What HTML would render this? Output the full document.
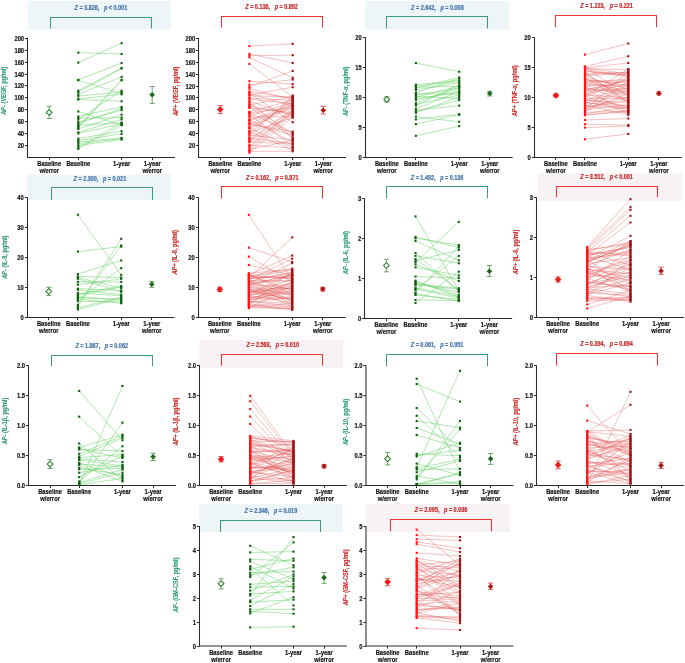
<!DOCTYPE html>
<html><head><meta charset="utf-8"><style>
html,body{margin:0;padding:0;background:#fff;}
svg{display:block;will-change:transform;}
text{font-family:"Liberation Sans",sans-serif;}
.tk{font-size:6.6px;font-weight:bold;fill:#111;stroke:#111;stroke-width:0.18px;}
.xl{font-size:6.6px;font-weight:bold;fill:#111;stroke:#111;stroke-width:0.18px;}
.hd{font-size:6.3px;font-weight:bold;stroke-width:0.2px;}
.yl{font-size:6.4px;font-weight:bold;stroke-width:0.1px;}
</style></head><body>
<svg width="685" height="663" viewBox="0 0 685 663">
<rect width="685" height="663" fill="#fff"/>
<rect x="27.6" y="1" width="143.6" height="28.6" fill="#edf5f9"/>
<path d="M50.5,28.5V17.5H151.5V28.5" fill="none" stroke="#3e9a7c" stroke-width="1.05"/>
<text transform="translate(100.9,8.2) scale(0.87,1)" class="hd" fill="#4474ab" stroke="#4474ab" text-anchor="middle" dominant-baseline="central"><tspan font-style="italic">Z</tspan> = 3.826,   <tspan font-style="italic">p</tspan> &lt; 0.001</text>
<path d="M27.5,37.80V157.5H175.00" fill="none" stroke="#2a2a2a" stroke-width="1.05"/>
<line x1="24.9" y1="145.5" x2="27.5" y2="145.5" stroke="#2a2a2a" stroke-width="1"/>
<text transform="translate(24.1,145.35) scale(0.88,1)" class="tk" text-anchor="end" dominant-baseline="central">20</text>
<line x1="24.9" y1="133.5" x2="27.5" y2="133.5" stroke="#2a2a2a" stroke-width="1"/>
<text transform="translate(24.1,133.35) scale(0.88,1)" class="tk" text-anchor="end" dominant-baseline="central">40</text>
<line x1="24.9" y1="121.5" x2="27.5" y2="121.5" stroke="#2a2a2a" stroke-width="1"/>
<text transform="translate(24.1,121.35) scale(0.88,1)" class="tk" text-anchor="end" dominant-baseline="central">60</text>
<line x1="24.9" y1="109.5" x2="27.5" y2="109.5" stroke="#2a2a2a" stroke-width="1"/>
<text transform="translate(24.1,109.35) scale(0.88,1)" class="tk" text-anchor="end" dominant-baseline="central">80</text>
<line x1="24.9" y1="97.5" x2="27.5" y2="97.5" stroke="#2a2a2a" stroke-width="1"/>
<text transform="translate(24.1,97.35) scale(0.88,1)" class="tk" text-anchor="end" dominant-baseline="central">100</text>
<line x1="24.9" y1="85.5" x2="27.5" y2="85.5" stroke="#2a2a2a" stroke-width="1"/>
<text transform="translate(24.1,85.35) scale(0.88,1)" class="tk" text-anchor="end" dominant-baseline="central">120</text>
<line x1="24.9" y1="74.5" x2="27.5" y2="74.5" stroke="#2a2a2a" stroke-width="1"/>
<text transform="translate(24.1,74.35) scale(0.88,1)" class="tk" text-anchor="end" dominant-baseline="central">140</text>
<line x1="24.9" y1="62.5" x2="27.5" y2="62.5" stroke="#2a2a2a" stroke-width="1"/>
<text transform="translate(24.1,62.35) scale(0.88,1)" class="tk" text-anchor="end" dominant-baseline="central">160</text>
<line x1="24.9" y1="50.5" x2="27.5" y2="50.5" stroke="#2a2a2a" stroke-width="1"/>
<text transform="translate(24.1,50.35) scale(0.88,1)" class="tk" text-anchor="end" dominant-baseline="central">180</text>
<line x1="24.9" y1="38.5" x2="27.5" y2="38.5" stroke="#2a2a2a" stroke-width="1"/>
<text transform="translate(24.1,38.35) scale(0.88,1)" class="tk" text-anchor="end" dominant-baseline="central">200</text>
<line x1="49.5" y1="157.5" x2="49.5" y2="160.1" stroke="#2a2a2a" stroke-width="1"/>
<line x1="78.5" y1="157.5" x2="78.5" y2="160.1" stroke="#2a2a2a" stroke-width="1"/>
<line x1="121.5" y1="157.5" x2="121.5" y2="160.1" stroke="#2a2a2a" stroke-width="1"/>
<line x1="152.5" y1="157.5" x2="152.5" y2="160.1" stroke="#2a2a2a" stroke-width="1"/>
<text transform="translate(49.20,163.5) scale(0.88,1)" class="xl" text-anchor="middle" dominant-baseline="central">Baseline</text>
<text transform="translate(49.20,170.6) scale(0.88,1)" class="xl" text-anchor="middle" dominant-baseline="central">w/error</text>
<text transform="translate(78.30,163.5) scale(0.88,1)" class="xl" text-anchor="middle" dominant-baseline="central">Baseline</text>
<text transform="translate(121.60,163.5) scale(0.88,1)" class="xl" text-anchor="middle" dominant-baseline="central">1-year</text>
<text transform="translate(152.20,163.5) scale(0.88,1)" class="xl" text-anchor="middle" dominant-baseline="central">1-year</text>
<text transform="translate(152.20,170.6) scale(0.88,1)" class="xl" text-anchor="middle" dominant-baseline="central">w/error</text>
<text transform="translate(4.2,90.8) rotate(-90) scale(0.88,1)" class="yl" fill="#2f9a78" stroke="#2f9a78" text-anchor="middle" dominant-baseline="central"><tspan font-style="italic">AP-</tspan> (VEGF, pg/ml)</text>
<g stroke="#62d062" stroke-width="0.5" fill="none" opacity="1">
<line x1="78.30" y1="52.65" x2="121.60" y2="54.01"/>
<line x1="78.30" y1="62.61" x2="121.60" y2="43.15"/>
<line x1="78.30" y1="79.81" x2="121.60" y2="63.06"/>
<line x1="78.30" y1="80.26" x2="121.60" y2="93.38"/>
<line x1="78.30" y1="90.67" x2="121.60" y2="68.04"/>
<line x1="78.30" y1="92.03" x2="121.60" y2="68.49"/>
<line x1="78.30" y1="94.29" x2="121.60" y2="76.86"/>
<line x1="78.30" y1="96.10" x2="121.60" y2="92.03"/>
<line x1="78.30" y1="98.82" x2="121.60" y2="94.29"/>
<line x1="78.30" y1="99.49" x2="121.60" y2="101.30"/>
<line x1="78.30" y1="111.49" x2="121.60" y2="125.07"/>
<line x1="78.30" y1="116.47" x2="121.60" y2="106.96"/>
<line x1="78.30" y1="118.05" x2="121.60" y2="117.60"/>
<line x1="78.30" y1="119.63" x2="121.60" y2="90.67"/>
<line x1="78.30" y1="122.12" x2="121.60" y2="110.13"/>
<line x1="78.30" y1="123.71" x2="121.60" y2="108.55"/>
<line x1="78.30" y1="125.07" x2="121.60" y2="122.80"/>
<line x1="78.30" y1="126.65" x2="121.60" y2="79.81"/>
<line x1="78.30" y1="127.78" x2="121.60" y2="80.26"/>
<line x1="78.30" y1="128.91" x2="121.60" y2="114.66"/>
<line x1="78.30" y1="132.31" x2="121.60" y2="119.41"/>
<line x1="78.30" y1="133.44" x2="121.60" y2="123.93"/>
<line x1="78.30" y1="138.64" x2="121.60" y2="131.18"/>
<line x1="78.30" y1="140.45" x2="121.60" y2="133.89"/>
<line x1="78.30" y1="141.81" x2="121.60" y2="137.96"/>
<line x1="78.30" y1="143.62" x2="121.60" y2="138.64"/>
<line x1="78.30" y1="145.43" x2="121.60" y2="139.55"/>
<line x1="78.30" y1="147.24" x2="121.60" y2="122.80"/>
<line x1="78.30" y1="148.83" x2="121.60" y2="125.07"/>
</g>
<g fill="#0f5e0f">
<rect x="77.25" y="51.60" width="2.1" height="2.1"/>
<rect x="77.25" y="61.56" width="2.1" height="2.1"/>
<rect x="77.25" y="78.76" width="2.1" height="2.1"/>
<rect x="77.25" y="79.21" width="2.1" height="2.1"/>
<rect x="77.25" y="89.62" width="2.1" height="2.1"/>
<rect x="77.25" y="90.98" width="2.1" height="2.1"/>
<rect x="77.25" y="93.24" width="2.1" height="2.1"/>
<rect x="77.25" y="95.05" width="2.1" height="2.1"/>
<rect x="77.25" y="97.77" width="2.1" height="2.1"/>
<rect x="77.25" y="98.44" width="2.1" height="2.1"/>
<rect x="77.25" y="110.44" width="2.1" height="2.1"/>
<rect x="77.25" y="115.42" width="2.1" height="2.1"/>
<rect x="77.25" y="117.00" width="2.1" height="2.1"/>
<rect x="77.25" y="118.58" width="2.1" height="2.1"/>
<rect x="77.25" y="121.07" width="2.1" height="2.1"/>
<rect x="77.25" y="122.66" width="2.1" height="2.1"/>
<rect x="77.25" y="124.02" width="2.1" height="2.1"/>
<rect x="77.25" y="125.60" width="2.1" height="2.1"/>
<rect x="77.25" y="126.73" width="2.1" height="2.1"/>
<rect x="77.25" y="127.86" width="2.1" height="2.1"/>
<rect x="77.25" y="131.26" width="2.1" height="2.1"/>
<rect x="77.25" y="132.39" width="2.1" height="2.1"/>
<rect x="77.25" y="137.59" width="2.1" height="2.1"/>
<rect x="77.25" y="139.40" width="2.1" height="2.1"/>
<rect x="77.25" y="140.76" width="2.1" height="2.1"/>
<rect x="77.25" y="142.57" width="2.1" height="2.1"/>
<rect x="77.25" y="144.38" width="2.1" height="2.1"/>
<rect x="77.25" y="146.19" width="2.1" height="2.1"/>
<rect x="77.25" y="147.78" width="2.1" height="2.1"/>
</g>
<g fill="#0f5e0f">
<rect x="120.55" y="52.96" width="2.1" height="2.1"/>
<rect x="120.55" y="42.10" width="2.1" height="2.1"/>
<rect x="120.55" y="62.01" width="2.1" height="2.1"/>
<rect x="120.55" y="92.33" width="2.1" height="2.1"/>
<rect x="120.55" y="66.99" width="2.1" height="2.1"/>
<rect x="120.55" y="67.44" width="2.1" height="2.1"/>
<rect x="120.55" y="75.81" width="2.1" height="2.1"/>
<rect x="120.55" y="90.98" width="2.1" height="2.1"/>
<rect x="120.55" y="93.24" width="2.1" height="2.1"/>
<rect x="120.55" y="100.25" width="2.1" height="2.1"/>
<rect x="120.55" y="124.02" width="2.1" height="2.1"/>
<rect x="120.55" y="105.91" width="2.1" height="2.1"/>
<rect x="120.55" y="116.55" width="2.1" height="2.1"/>
<rect x="120.55" y="89.62" width="2.1" height="2.1"/>
<rect x="120.55" y="109.08" width="2.1" height="2.1"/>
<rect x="120.55" y="107.50" width="2.1" height="2.1"/>
<rect x="120.55" y="121.75" width="2.1" height="2.1"/>
<rect x="120.55" y="78.76" width="2.1" height="2.1"/>
<rect x="120.55" y="79.21" width="2.1" height="2.1"/>
<rect x="120.55" y="113.61" width="2.1" height="2.1"/>
<rect x="120.55" y="118.36" width="2.1" height="2.1"/>
<rect x="120.55" y="122.88" width="2.1" height="2.1"/>
<rect x="120.55" y="130.13" width="2.1" height="2.1"/>
<rect x="120.55" y="132.84" width="2.1" height="2.1"/>
<rect x="120.55" y="136.91" width="2.1" height="2.1"/>
<rect x="120.55" y="137.59" width="2.1" height="2.1"/>
<rect x="120.55" y="138.50" width="2.1" height="2.1"/>
<rect x="120.55" y="121.75" width="2.1" height="2.1"/>
<rect x="120.55" y="124.02" width="2.1" height="2.1"/>
</g>
<path d="M49.20,106.3V118.5M46.60,106.3H51.80M46.60,118.5H51.80" stroke="#4a8f4a" stroke-width="0.8" fill="none"/>
<path d="M49.20,109.55L52.05,112.40L49.20,115.25L46.35,112.40Z" fill="#fff" stroke="#2b7a2b" stroke-width="1.05"/>
<path d="M152.20,86.5V103.4M149.60,86.5H154.80M149.60,103.4H154.80" stroke="#4a8f4a" stroke-width="0.8" fill="none"/>
<path d="M152.20,91.90L155.00,94.70L152.20,97.50L149.40,94.70Z" fill="#1e6a1e"/>
<path d="M221.5,27.6V16.5H322.5V27.6" fill="none" stroke="#ec3434" stroke-width="1.05"/>
<text transform="translate(271.6,6.7) scale(0.87,1)" class="hd" fill="#c42a2a" stroke="#c42a2a" text-anchor="middle" dominant-baseline="central"><tspan font-style="italic">Z</tspan> = 0.136,   <tspan font-style="italic">p</tspan> = 0.892</text>
<path d="M198.5,37.90V157.5H346.10" fill="none" stroke="#2a2a2a" stroke-width="1.05"/>
<line x1="195.9" y1="145.5" x2="198.5" y2="145.5" stroke="#2a2a2a" stroke-width="1"/>
<text transform="translate(195.2,145.35) scale(0.88,1)" class="tk" text-anchor="end" dominant-baseline="central">20</text>
<line x1="195.9" y1="133.5" x2="198.5" y2="133.5" stroke="#2a2a2a" stroke-width="1"/>
<text transform="translate(195.2,133.35) scale(0.88,1)" class="tk" text-anchor="end" dominant-baseline="central">40</text>
<line x1="195.9" y1="121.5" x2="198.5" y2="121.5" stroke="#2a2a2a" stroke-width="1"/>
<text transform="translate(195.2,121.35) scale(0.88,1)" class="tk" text-anchor="end" dominant-baseline="central">60</text>
<line x1="195.9" y1="109.5" x2="198.5" y2="109.5" stroke="#2a2a2a" stroke-width="1"/>
<text transform="translate(195.2,109.35) scale(0.88,1)" class="tk" text-anchor="end" dominant-baseline="central">80</text>
<line x1="195.9" y1="97.5" x2="198.5" y2="97.5" stroke="#2a2a2a" stroke-width="1"/>
<text transform="translate(195.2,97.35) scale(0.88,1)" class="tk" text-anchor="end" dominant-baseline="central">100</text>
<line x1="195.9" y1="86.5" x2="198.5" y2="86.5" stroke="#2a2a2a" stroke-width="1"/>
<text transform="translate(195.2,86.35) scale(0.88,1)" class="tk" text-anchor="end" dominant-baseline="central">120</text>
<line x1="195.9" y1="74.5" x2="198.5" y2="74.5" stroke="#2a2a2a" stroke-width="1"/>
<text transform="translate(195.2,74.35) scale(0.88,1)" class="tk" text-anchor="end" dominant-baseline="central">140</text>
<line x1="195.9" y1="62.5" x2="198.5" y2="62.5" stroke="#2a2a2a" stroke-width="1"/>
<text transform="translate(195.2,62.35) scale(0.88,1)" class="tk" text-anchor="end" dominant-baseline="central">160</text>
<line x1="195.9" y1="50.5" x2="198.5" y2="50.5" stroke="#2a2a2a" stroke-width="1"/>
<text transform="translate(195.2,50.35) scale(0.88,1)" class="tk" text-anchor="end" dominant-baseline="central">180</text>
<line x1="195.9" y1="38.5" x2="198.5" y2="38.5" stroke="#2a2a2a" stroke-width="1"/>
<text transform="translate(195.2,38.35) scale(0.88,1)" class="tk" text-anchor="end" dominant-baseline="central">200</text>
<line x1="220.5" y1="157.5" x2="220.5" y2="160.1" stroke="#2a2a2a" stroke-width="1"/>
<line x1="249.5" y1="157.5" x2="249.5" y2="160.1" stroke="#2a2a2a" stroke-width="1"/>
<line x1="292.5" y1="157.5" x2="292.5" y2="160.1" stroke="#2a2a2a" stroke-width="1"/>
<line x1="323.5" y1="157.5" x2="323.5" y2="160.1" stroke="#2a2a2a" stroke-width="1"/>
<text transform="translate(220.30,163.5) scale(0.88,1)" class="xl" text-anchor="middle" dominant-baseline="central">Baseline</text>
<text transform="translate(220.30,170.6) scale(0.88,1)" class="xl" text-anchor="middle" dominant-baseline="central">w/error</text>
<text transform="translate(249.40,163.5) scale(0.88,1)" class="xl" text-anchor="middle" dominant-baseline="central">Baseline</text>
<text transform="translate(292.70,163.5) scale(0.88,1)" class="xl" text-anchor="middle" dominant-baseline="central">1-year</text>
<text transform="translate(323.30,163.5) scale(0.88,1)" class="xl" text-anchor="middle" dominant-baseline="central">1-year</text>
<text transform="translate(323.30,170.6) scale(0.88,1)" class="xl" text-anchor="middle" dominant-baseline="central">w/error</text>
<text transform="translate(175.6,91.1) rotate(-90) scale(0.88,1)" class="yl" fill="#cc2a2a" stroke="#cc2a2a" text-anchor="middle" dominant-baseline="central"><tspan font-style="italic">AP+</tspan> (VEGF, pg/ml)</text>
<g stroke="#e35a5a" stroke-width="0.38" fill="none" opacity="1">
<line x1="249.40" y1="46.10" x2="292.70" y2="43.80"/>
<line x1="249.40" y1="53.90" x2="292.70" y2="63.00"/>
<line x1="249.40" y1="55.70" x2="292.70" y2="55.20"/>
<line x1="249.40" y1="57.40" x2="292.70" y2="77.80"/>
<line x1="249.40" y1="63.90" x2="292.70" y2="97.00"/>
<line x1="249.40" y1="81.10" x2="292.70" y2="84.20"/>
<line x1="249.40" y1="84.70" x2="292.70" y2="79.60"/>
<line x1="249.40" y1="86.90" x2="292.70" y2="70.90"/>
<line x1="249.40" y1="95.00" x2="292.70" y2="87.20"/>
<line x1="249.40" y1="93.00" x2="292.70" y2="122.20"/>
<line x1="249.40" y1="137.25" x2="292.70" y2="95.53"/>
<line x1="249.40" y1="104.91" x2="292.70" y2="96.44"/>
<line x1="249.40" y1="95.79" x2="292.70" y2="96.84"/>
<line x1="249.40" y1="133.73" x2="292.70" y2="97.89"/>
<line x1="249.40" y1="91.34" x2="292.70" y2="98.41"/>
<line x1="249.40" y1="88.57" x2="292.70" y2="99.52"/>
<line x1="249.40" y1="111.72" x2="292.70" y2="100.24"/>
<line x1="249.40" y1="98.00" x2="292.70" y2="100.47"/>
<line x1="249.40" y1="130.72" x2="292.70" y2="101.27"/>
<line x1="249.40" y1="115.74" x2="292.70" y2="102.09"/>
<line x1="249.40" y1="120.90" x2="292.70" y2="103.37"/>
<line x1="249.40" y1="99.07" x2="292.70" y2="103.77"/>
<line x1="249.40" y1="124.01" x2="292.70" y2="104.67"/>
<line x1="249.40" y1="126.63" x2="292.70" y2="105.21"/>
<line x1="249.40" y1="93.16" x2="292.70" y2="106.12"/>
<line x1="249.40" y1="128.13" x2="292.70" y2="106.80"/>
<line x1="249.40" y1="112.86" x2="292.70" y2="107.55"/>
<line x1="249.40" y1="119.69" x2="292.70" y2="108.48"/>
<line x1="249.40" y1="139.09" x2="292.70" y2="109.24"/>
<line x1="249.40" y1="140.70" x2="292.70" y2="110.23"/>
<line x1="249.40" y1="146.13" x2="292.70" y2="110.84"/>
<line x1="249.40" y1="147.53" x2="292.70" y2="111.78"/>
<line x1="249.40" y1="108.07" x2="292.70" y2="112.50"/>
<line x1="249.40" y1="142.34" x2="292.70" y2="113.36"/>
<line x1="249.40" y1="150.18" x2="292.70" y2="113.90"/>
<line x1="249.40" y1="105.95" x2="292.70" y2="114.32"/>
<line x1="249.40" y1="101.13" x2="292.70" y2="115.57"/>
<line x1="249.40" y1="117.20" x2="292.70" y2="116.40"/>
<line x1="249.40" y1="152.66" x2="292.70" y2="117.13"/>
<line x1="249.40" y1="132.75" x2="292.70" y2="117.66"/>
<line x1="249.40" y1="124.48" x2="292.70" y2="131.57"/>
<line x1="249.40" y1="112.69" x2="292.70" y2="133.23"/>
<line x1="249.40" y1="103.94" x2="292.70" y2="133.97"/>
<line x1="249.40" y1="122.71" x2="292.70" y2="135.36"/>
<line x1="249.40" y1="101.99" x2="292.70" y2="137.47"/>
<line x1="249.40" y1="106.92" x2="292.70" y2="138.24"/>
<line x1="249.40" y1="135.21" x2="292.70" y2="139.59"/>
<line x1="249.40" y1="149.34" x2="292.70" y2="140.27"/>
<line x1="249.40" y1="119.59" x2="292.70" y2="142.06"/>
<line x1="249.40" y1="138.38" x2="292.70" y2="143.56"/>
<line x1="249.40" y1="141.58" x2="292.70" y2="144.21"/>
<line x1="249.40" y1="114.35" x2="292.70" y2="146.23"/>
<line x1="249.40" y1="128.04" x2="292.70" y2="147.56"/>
<line x1="249.40" y1="145.08" x2="292.70" y2="148.20"/>
<line x1="249.40" y1="131.53" x2="292.70" y2="150.18"/>
<line x1="249.40" y1="151.36" x2="292.70" y2="151.30"/>
</g>
<g fill="#ff1414">
<rect x="248.35" y="45.05" width="2.1" height="2.1"/>
<rect x="248.35" y="52.85" width="2.1" height="2.1"/>
<rect x="248.35" y="54.65" width="2.1" height="2.1"/>
<rect x="248.35" y="56.35" width="2.1" height="2.1"/>
<rect x="248.35" y="62.85" width="2.1" height="2.1"/>
<rect x="248.35" y="80.05" width="2.1" height="2.1"/>
<rect x="248.35" y="83.65" width="2.1" height="2.1"/>
<rect x="248.35" y="85.85" width="2.1" height="2.1"/>
<rect x="248.35" y="93.95" width="2.1" height="2.1"/>
<rect x="248.35" y="91.95" width="2.1" height="2.1"/>
<rect x="248.35" y="136.20" width="2.1" height="2.1"/>
<rect x="248.35" y="103.86" width="2.1" height="2.1"/>
<rect x="248.35" y="94.74" width="2.1" height="2.1"/>
<rect x="248.35" y="132.68" width="2.1" height="2.1"/>
<rect x="248.35" y="90.29" width="2.1" height="2.1"/>
<rect x="248.35" y="87.52" width="2.1" height="2.1"/>
<rect x="248.35" y="110.67" width="2.1" height="2.1"/>
<rect x="248.35" y="96.95" width="2.1" height="2.1"/>
<rect x="248.35" y="129.67" width="2.1" height="2.1"/>
<rect x="248.35" y="114.69" width="2.1" height="2.1"/>
<rect x="248.35" y="119.85" width="2.1" height="2.1"/>
<rect x="248.35" y="98.02" width="2.1" height="2.1"/>
<rect x="248.35" y="122.96" width="2.1" height="2.1"/>
<rect x="248.35" y="125.58" width="2.1" height="2.1"/>
<rect x="248.35" y="92.11" width="2.1" height="2.1"/>
<rect x="248.35" y="127.08" width="2.1" height="2.1"/>
<rect x="248.35" y="111.81" width="2.1" height="2.1"/>
<rect x="248.35" y="118.64" width="2.1" height="2.1"/>
<rect x="248.35" y="138.04" width="2.1" height="2.1"/>
<rect x="248.35" y="139.65" width="2.1" height="2.1"/>
<rect x="248.35" y="145.08" width="2.1" height="2.1"/>
<rect x="248.35" y="146.48" width="2.1" height="2.1"/>
<rect x="248.35" y="107.02" width="2.1" height="2.1"/>
<rect x="248.35" y="141.29" width="2.1" height="2.1"/>
<rect x="248.35" y="149.13" width="2.1" height="2.1"/>
<rect x="248.35" y="104.90" width="2.1" height="2.1"/>
<rect x="248.35" y="100.08" width="2.1" height="2.1"/>
<rect x="248.35" y="116.15" width="2.1" height="2.1"/>
<rect x="248.35" y="151.61" width="2.1" height="2.1"/>
<rect x="248.35" y="131.70" width="2.1" height="2.1"/>
<rect x="248.35" y="123.43" width="2.1" height="2.1"/>
<rect x="248.35" y="111.64" width="2.1" height="2.1"/>
<rect x="248.35" y="102.89" width="2.1" height="2.1"/>
<rect x="248.35" y="121.66" width="2.1" height="2.1"/>
<rect x="248.35" y="100.94" width="2.1" height="2.1"/>
<rect x="248.35" y="105.87" width="2.1" height="2.1"/>
<rect x="248.35" y="134.16" width="2.1" height="2.1"/>
<rect x="248.35" y="148.29" width="2.1" height="2.1"/>
<rect x="248.35" y="118.54" width="2.1" height="2.1"/>
<rect x="248.35" y="137.33" width="2.1" height="2.1"/>
<rect x="248.35" y="140.53" width="2.1" height="2.1"/>
<rect x="248.35" y="113.30" width="2.1" height="2.1"/>
<rect x="248.35" y="126.99" width="2.1" height="2.1"/>
<rect x="248.35" y="144.03" width="2.1" height="2.1"/>
<rect x="248.35" y="130.48" width="2.1" height="2.1"/>
<rect x="248.35" y="150.31" width="2.1" height="2.1"/>
</g>
<g fill="#a01212">
<rect x="291.65" y="42.75" width="2.1" height="2.1"/>
<rect x="291.65" y="61.95" width="2.1" height="2.1"/>
<rect x="291.65" y="54.15" width="2.1" height="2.1"/>
<rect x="291.65" y="76.75" width="2.1" height="2.1"/>
<rect x="291.65" y="95.95" width="2.1" height="2.1"/>
<rect x="291.65" y="83.15" width="2.1" height="2.1"/>
<rect x="291.65" y="78.55" width="2.1" height="2.1"/>
<rect x="291.65" y="69.85" width="2.1" height="2.1"/>
<rect x="291.65" y="86.15" width="2.1" height="2.1"/>
<rect x="291.65" y="121.15" width="2.1" height="2.1"/>
<rect x="291.65" y="94.48" width="2.1" height="2.1"/>
<rect x="291.65" y="95.39" width="2.1" height="2.1"/>
<rect x="291.65" y="95.79" width="2.1" height="2.1"/>
<rect x="291.65" y="96.84" width="2.1" height="2.1"/>
<rect x="291.65" y="97.36" width="2.1" height="2.1"/>
<rect x="291.65" y="98.47" width="2.1" height="2.1"/>
<rect x="291.65" y="99.19" width="2.1" height="2.1"/>
<rect x="291.65" y="99.42" width="2.1" height="2.1"/>
<rect x="291.65" y="100.22" width="2.1" height="2.1"/>
<rect x="291.65" y="101.04" width="2.1" height="2.1"/>
<rect x="291.65" y="102.32" width="2.1" height="2.1"/>
<rect x="291.65" y="102.72" width="2.1" height="2.1"/>
<rect x="291.65" y="103.62" width="2.1" height="2.1"/>
<rect x="291.65" y="104.16" width="2.1" height="2.1"/>
<rect x="291.65" y="105.07" width="2.1" height="2.1"/>
<rect x="291.65" y="105.75" width="2.1" height="2.1"/>
<rect x="291.65" y="106.50" width="2.1" height="2.1"/>
<rect x="291.65" y="107.43" width="2.1" height="2.1"/>
<rect x="291.65" y="108.19" width="2.1" height="2.1"/>
<rect x="291.65" y="109.18" width="2.1" height="2.1"/>
<rect x="291.65" y="109.79" width="2.1" height="2.1"/>
<rect x="291.65" y="110.73" width="2.1" height="2.1"/>
<rect x="291.65" y="111.45" width="2.1" height="2.1"/>
<rect x="291.65" y="112.31" width="2.1" height="2.1"/>
<rect x="291.65" y="112.85" width="2.1" height="2.1"/>
<rect x="291.65" y="113.27" width="2.1" height="2.1"/>
<rect x="291.65" y="114.52" width="2.1" height="2.1"/>
<rect x="291.65" y="115.35" width="2.1" height="2.1"/>
<rect x="291.65" y="116.08" width="2.1" height="2.1"/>
<rect x="291.65" y="116.61" width="2.1" height="2.1"/>
<rect x="291.65" y="130.52" width="2.1" height="2.1"/>
<rect x="291.65" y="132.18" width="2.1" height="2.1"/>
<rect x="291.65" y="132.92" width="2.1" height="2.1"/>
<rect x="291.65" y="134.31" width="2.1" height="2.1"/>
<rect x="291.65" y="136.42" width="2.1" height="2.1"/>
<rect x="291.65" y="137.19" width="2.1" height="2.1"/>
<rect x="291.65" y="138.54" width="2.1" height="2.1"/>
<rect x="291.65" y="139.22" width="2.1" height="2.1"/>
<rect x="291.65" y="141.01" width="2.1" height="2.1"/>
<rect x="291.65" y="142.51" width="2.1" height="2.1"/>
<rect x="291.65" y="143.16" width="2.1" height="2.1"/>
<rect x="291.65" y="145.18" width="2.1" height="2.1"/>
<rect x="291.65" y="146.51" width="2.1" height="2.1"/>
<rect x="291.65" y="147.15" width="2.1" height="2.1"/>
<rect x="291.65" y="149.13" width="2.1" height="2.1"/>
<rect x="291.65" y="150.25" width="2.1" height="2.1"/>
</g>
<path d="M220.30,105.6V113.6M217.70,105.6H222.90M217.70,113.6H222.90" stroke="#e03535" stroke-width="0.8" fill="none"/>
<path d="M220.30,106.20L223.60,109.50L220.30,112.80L217.00,109.50Z" fill="#f21a1a"/>
<path d="M323.30,106.4V114.1M320.70,106.4H325.90M320.70,114.1H325.90" stroke="#e03535" stroke-width="0.8" fill="none"/>
<path d="M323.30,107.40L326.10,110.20L323.30,113.00L320.50,110.20Z" fill="#b01515"/>
<rect x="365.2" y="1" width="143.8" height="28.6" fill="#edf5f9"/>
<path d="M386.5,28.5V16.5H487.5V28.5" fill="none" stroke="#3e9a7c" stroke-width="1.05"/>
<text transform="translate(437.4,7.7) scale(0.87,1)" class="hd" fill="#4474ab" stroke="#4474ab" text-anchor="middle" dominant-baseline="central"><tspan font-style="italic">Z</tspan> = 2.642,   <tspan font-style="italic">p</tspan> = 0.008</text>
<path d="M365.5,37.30V157.5H512.60" fill="none" stroke="#2a2a2a" stroke-width="1.05"/>
<line x1="362.9" y1="157.5" x2="365.5" y2="157.5" stroke="#2a2a2a" stroke-width="1"/>
<text transform="translate(361.7,157.35) scale(0.88,1)" class="tk" text-anchor="end" dominant-baseline="central">0</text>
<line x1="362.9" y1="127.5" x2="365.5" y2="127.5" stroke="#2a2a2a" stroke-width="1"/>
<text transform="translate(361.7,127.35) scale(0.88,1)" class="tk" text-anchor="end" dominant-baseline="central">5</text>
<line x1="362.9" y1="97.5" x2="365.5" y2="97.5" stroke="#2a2a2a" stroke-width="1"/>
<text transform="translate(361.7,97.35) scale(0.88,1)" class="tk" text-anchor="end" dominant-baseline="central">10</text>
<line x1="362.9" y1="67.5" x2="365.5" y2="67.5" stroke="#2a2a2a" stroke-width="1"/>
<text transform="translate(361.7,67.35) scale(0.88,1)" class="tk" text-anchor="end" dominant-baseline="central">15</text>
<line x1="362.9" y1="37.5" x2="365.5" y2="37.5" stroke="#2a2a2a" stroke-width="1"/>
<text transform="translate(361.7,37.35) scale(0.88,1)" class="tk" text-anchor="end" dominant-baseline="central">20</text>
<line x1="386.5" y1="157.5" x2="386.5" y2="160.1" stroke="#2a2a2a" stroke-width="1"/>
<line x1="415.5" y1="157.5" x2="415.5" y2="160.1" stroke="#2a2a2a" stroke-width="1"/>
<line x1="459.5" y1="157.5" x2="459.5" y2="160.1" stroke="#2a2a2a" stroke-width="1"/>
<line x1="489.5" y1="157.5" x2="489.5" y2="160.1" stroke="#2a2a2a" stroke-width="1"/>
<text transform="translate(386.80,163.4) scale(0.88,1)" class="xl" text-anchor="middle" dominant-baseline="central">Baseline</text>
<text transform="translate(386.80,170.5) scale(0.88,1)" class="xl" text-anchor="middle" dominant-baseline="central">w/error</text>
<text transform="translate(415.90,163.4) scale(0.88,1)" class="xl" text-anchor="middle" dominant-baseline="central">Baseline</text>
<text transform="translate(459.20,163.4) scale(0.88,1)" class="xl" text-anchor="middle" dominant-baseline="central">1-year</text>
<text transform="translate(489.80,163.4) scale(0.88,1)" class="xl" text-anchor="middle" dominant-baseline="central">1-year</text>
<text transform="translate(489.80,170.5) scale(0.88,1)" class="xl" text-anchor="middle" dominant-baseline="central">w/error</text>
<text transform="translate(346.3,91.3) rotate(-90) scale(0.88,1)" class="yl" fill="#2f9a78" stroke="#2f9a78" text-anchor="middle" dominant-baseline="central"><tspan font-style="italic">AP-</tspan> (TNF-α, pg/ml)</text>
<g stroke="#62d062" stroke-width="0.5" fill="none" opacity="1">
<line x1="415.90" y1="63.10" x2="459.20" y2="71.70"/>
<line x1="415.90" y1="135.80" x2="459.20" y2="126.10"/>
<line x1="415.90" y1="124.10" x2="459.20" y2="114.70"/>
<line x1="415.90" y1="116.60" x2="459.20" y2="121.80"/>
<line x1="415.90" y1="119.40" x2="459.20" y2="114.20"/>
<line x1="415.90" y1="88.30" x2="459.20" y2="77.40"/>
<line x1="415.90" y1="92.60" x2="459.20" y2="78.50"/>
<line x1="415.90" y1="84.70" x2="459.20" y2="80.40"/>
<line x1="415.90" y1="85.90" x2="459.20" y2="81.60"/>
<line x1="415.90" y1="89.90" x2="459.20" y2="82.80"/>
<line x1="415.90" y1="105.60" x2="459.20" y2="84.70"/>
<line x1="415.90" y1="97.30" x2="459.20" y2="85.90"/>
<line x1="415.90" y1="87.10" x2="459.20" y2="86.50"/>
<line x1="415.90" y1="103.20" x2="459.20" y2="87.10"/>
<line x1="415.90" y1="95.00" x2="459.20" y2="88.30"/>
<line x1="415.90" y1="100.10" x2="459.20" y2="90.20"/>
<line x1="415.90" y1="108.80" x2="459.20" y2="91.40"/>
<line x1="415.90" y1="98.90" x2="459.20" y2="92.60"/>
<line x1="415.90" y1="93.80" x2="459.20" y2="93.80"/>
<line x1="415.90" y1="104.40" x2="459.20" y2="95.00"/>
<line x1="415.90" y1="112.70" x2="459.20" y2="96.90"/>
<line x1="415.90" y1="96.20" x2="459.20" y2="98.50"/>
<line x1="415.90" y1="111.50" x2="459.20" y2="100.10"/>
<line x1="415.90" y1="110.30" x2="459.20" y2="105.60"/>
</g>
<g fill="#0f5e0f">
<rect x="414.85" y="62.05" width="2.1" height="2.1"/>
<rect x="414.85" y="134.75" width="2.1" height="2.1"/>
<rect x="414.85" y="123.05" width="2.1" height="2.1"/>
<rect x="414.85" y="115.55" width="2.1" height="2.1"/>
<rect x="414.85" y="118.35" width="2.1" height="2.1"/>
<rect x="414.85" y="87.25" width="2.1" height="2.1"/>
<rect x="414.85" y="91.55" width="2.1" height="2.1"/>
<rect x="414.85" y="83.65" width="2.1" height="2.1"/>
<rect x="414.85" y="84.85" width="2.1" height="2.1"/>
<rect x="414.85" y="88.85" width="2.1" height="2.1"/>
<rect x="414.85" y="104.55" width="2.1" height="2.1"/>
<rect x="414.85" y="96.25" width="2.1" height="2.1"/>
<rect x="414.85" y="86.05" width="2.1" height="2.1"/>
<rect x="414.85" y="102.15" width="2.1" height="2.1"/>
<rect x="414.85" y="93.95" width="2.1" height="2.1"/>
<rect x="414.85" y="99.05" width="2.1" height="2.1"/>
<rect x="414.85" y="107.75" width="2.1" height="2.1"/>
<rect x="414.85" y="97.85" width="2.1" height="2.1"/>
<rect x="414.85" y="92.75" width="2.1" height="2.1"/>
<rect x="414.85" y="103.35" width="2.1" height="2.1"/>
<rect x="414.85" y="111.65" width="2.1" height="2.1"/>
<rect x="414.85" y="95.15" width="2.1" height="2.1"/>
<rect x="414.85" y="110.45" width="2.1" height="2.1"/>
<rect x="414.85" y="109.25" width="2.1" height="2.1"/>
</g>
<g fill="#0f5e0f">
<rect x="458.15" y="70.65" width="2.1" height="2.1"/>
<rect x="458.15" y="125.05" width="2.1" height="2.1"/>
<rect x="458.15" y="113.65" width="2.1" height="2.1"/>
<rect x="458.15" y="120.75" width="2.1" height="2.1"/>
<rect x="458.15" y="113.15" width="2.1" height="2.1"/>
<rect x="458.15" y="76.35" width="2.1" height="2.1"/>
<rect x="458.15" y="77.45" width="2.1" height="2.1"/>
<rect x="458.15" y="79.35" width="2.1" height="2.1"/>
<rect x="458.15" y="80.55" width="2.1" height="2.1"/>
<rect x="458.15" y="81.75" width="2.1" height="2.1"/>
<rect x="458.15" y="83.65" width="2.1" height="2.1"/>
<rect x="458.15" y="84.85" width="2.1" height="2.1"/>
<rect x="458.15" y="85.45" width="2.1" height="2.1"/>
<rect x="458.15" y="86.05" width="2.1" height="2.1"/>
<rect x="458.15" y="87.25" width="2.1" height="2.1"/>
<rect x="458.15" y="89.15" width="2.1" height="2.1"/>
<rect x="458.15" y="90.35" width="2.1" height="2.1"/>
<rect x="458.15" y="91.55" width="2.1" height="2.1"/>
<rect x="458.15" y="92.75" width="2.1" height="2.1"/>
<rect x="458.15" y="93.95" width="2.1" height="2.1"/>
<rect x="458.15" y="95.85" width="2.1" height="2.1"/>
<rect x="458.15" y="97.45" width="2.1" height="2.1"/>
<rect x="458.15" y="99.05" width="2.1" height="2.1"/>
<rect x="458.15" y="104.55" width="2.1" height="2.1"/>
</g>
<path d="M386.80,96.8V101.9M384.20,96.8H389.40M384.20,101.9H389.40" stroke="#4a8f4a" stroke-width="0.8" fill="none"/>
<path d="M386.80,96.55L389.65,99.40L386.80,102.25L383.95,99.40Z" fill="#fff" stroke="#2b7a2b" stroke-width="1.05"/>
<path d="M489.80,91.3V96M487.20,91.3H492.40M487.20,96H492.40" stroke="#4a8f4a" stroke-width="0.8" fill="none"/>
<path d="M489.80,90.60L492.60,93.40L489.80,96.20L487.00,93.40Z" fill="#1e6a1e"/>
<path d="M555.5,27.2V15.5H656.5V27.2" fill="none" stroke="#ec3434" stroke-width="1.05"/>
<text transform="translate(606.6,6.2) scale(0.87,1)" class="hd" fill="#c42a2a" stroke="#c42a2a" text-anchor="middle" dominant-baseline="central"><tspan font-style="italic">Z</tspan> = 1.223,   <tspan font-style="italic">p</tspan> = 0.221</text>
<path d="M534.5,37.30V157.5H681.70" fill="none" stroke="#2a2a2a" stroke-width="1.05"/>
<line x1="531.9" y1="157.5" x2="534.5" y2="157.5" stroke="#2a2a2a" stroke-width="1"/>
<text transform="translate(530.8,157.35) scale(0.88,1)" class="tk" text-anchor="end" dominant-baseline="central">0</text>
<line x1="531.9" y1="127.5" x2="534.5" y2="127.5" stroke="#2a2a2a" stroke-width="1"/>
<text transform="translate(530.8,127.35) scale(0.88,1)" class="tk" text-anchor="end" dominant-baseline="central">5</text>
<line x1="531.9" y1="97.5" x2="534.5" y2="97.5" stroke="#2a2a2a" stroke-width="1"/>
<text transform="translate(530.8,97.35) scale(0.88,1)" class="tk" text-anchor="end" dominant-baseline="central">10</text>
<line x1="531.9" y1="67.5" x2="534.5" y2="67.5" stroke="#2a2a2a" stroke-width="1"/>
<text transform="translate(530.8,67.35) scale(0.88,1)" class="tk" text-anchor="end" dominant-baseline="central">15</text>
<line x1="531.9" y1="37.5" x2="534.5" y2="37.5" stroke="#2a2a2a" stroke-width="1"/>
<text transform="translate(530.8,37.35) scale(0.88,1)" class="tk" text-anchor="end" dominant-baseline="central">20</text>
<line x1="555.5" y1="157.5" x2="555.5" y2="160.1" stroke="#2a2a2a" stroke-width="1"/>
<line x1="584.5" y1="157.5" x2="584.5" y2="160.1" stroke="#2a2a2a" stroke-width="1"/>
<line x1="628.5" y1="157.5" x2="628.5" y2="160.1" stroke="#2a2a2a" stroke-width="1"/>
<line x1="658.5" y1="157.5" x2="658.5" y2="160.1" stroke="#2a2a2a" stroke-width="1"/>
<text transform="translate(555.90,163.4) scale(0.88,1)" class="xl" text-anchor="middle" dominant-baseline="central">Baseline</text>
<text transform="translate(555.90,170.5) scale(0.88,1)" class="xl" text-anchor="middle" dominant-baseline="central">w/error</text>
<text transform="translate(585.00,163.4) scale(0.88,1)" class="xl" text-anchor="middle" dominant-baseline="central">Baseline</text>
<text transform="translate(628.30,163.4) scale(0.88,1)" class="xl" text-anchor="middle" dominant-baseline="central">1-year</text>
<text transform="translate(658.90,163.4) scale(0.88,1)" class="xl" text-anchor="middle" dominant-baseline="central">1-year</text>
<text transform="translate(658.90,170.5) scale(0.88,1)" class="xl" text-anchor="middle" dominant-baseline="central">w/error</text>
<text transform="translate(515.2,90.8) rotate(-90) scale(0.88,1)" class="yl" fill="#cc2a2a" stroke="#cc2a2a" text-anchor="middle" dominant-baseline="central"><tspan font-style="italic">AP+</tspan> (TNF-α, pg/ml)</text>
<g stroke="#e35a5a" stroke-width="0.38" fill="none" opacity="1">
<line x1="585.00" y1="54.60" x2="628.30" y2="43.50"/>
<line x1="585.00" y1="66.50" x2="628.30" y2="56.30"/>
<line x1="585.00" y1="68.00" x2="628.30" y2="62.90"/>
<line x1="585.00" y1="139.20" x2="628.30" y2="133.90"/>
<line x1="585.00" y1="127.60" x2="628.30" y2="126.00"/>
<line x1="585.00" y1="124.30" x2="628.30" y2="125.00"/>
<line x1="585.00" y1="120.00" x2="628.30" y2="118.50"/>
<line x1="585.00" y1="96.30" x2="628.30" y2="69.11"/>
<line x1="585.00" y1="68.87" x2="628.30" y2="69.62"/>
<line x1="585.00" y1="110.34" x2="628.30" y2="70.94"/>
<line x1="585.00" y1="75.00" x2="628.30" y2="71.86"/>
<line x1="585.00" y1="73.26" x2="628.30" y2="72.56"/>
<line x1="585.00" y1="75.60" x2="628.30" y2="73.64"/>
<line x1="585.00" y1="67.57" x2="628.30" y2="74.05"/>
<line x1="585.00" y1="71.34" x2="628.30" y2="75.19"/>
<line x1="585.00" y1="69.30" x2="628.30" y2="75.96"/>
<line x1="585.00" y1="70.58" x2="628.30" y2="76.79"/>
<line x1="585.00" y1="97.19" x2="628.30" y2="77.54"/>
<line x1="585.00" y1="83.21" x2="628.30" y2="78.68"/>
<line x1="585.00" y1="90.19" x2="628.30" y2="79.61"/>
<line x1="585.00" y1="91.51" x2="628.30" y2="80.09"/>
<line x1="585.00" y1="112.54" x2="628.30" y2="81.08"/>
<line x1="585.00" y1="80.23" x2="628.30" y2="81.47"/>
<line x1="585.00" y1="81.45" x2="628.30" y2="82.80"/>
<line x1="585.00" y1="94.06" x2="628.30" y2="83.61"/>
<line x1="585.00" y1="85.48" x2="628.30" y2="84.72"/>
<line x1="585.00" y1="79.25" x2="628.30" y2="85.43"/>
<line x1="585.00" y1="101.00" x2="628.30" y2="85.87"/>
<line x1="585.00" y1="83.97" x2="628.30" y2="86.79"/>
<line x1="585.00" y1="103.69" x2="628.30" y2="87.85"/>
<line x1="585.00" y1="91.89" x2="628.30" y2="88.20"/>
<line x1="585.00" y1="76.52" x2="628.30" y2="89.38"/>
<line x1="585.00" y1="106.34" x2="628.30" y2="90.01"/>
<line x1="585.00" y1="82.61" x2="628.30" y2="90.81"/>
<line x1="585.00" y1="89.14" x2="628.30" y2="91.61"/>
<line x1="585.00" y1="110.88" x2="628.30" y2="93.00"/>
<line x1="585.00" y1="85.34" x2="628.30" y2="93.36"/>
<line x1="585.00" y1="78.91" x2="628.30" y2="94.29"/>
<line x1="585.00" y1="87.48" x2="628.30" y2="95.25"/>
<line x1="585.00" y1="108.37" x2="628.30" y2="96.46"/>
<line x1="585.00" y1="66.81" x2="628.30" y2="96.70"/>
<line x1="585.00" y1="94.75" x2="628.30" y2="97.83"/>
<line x1="585.00" y1="98.21" x2="628.30" y2="98.75"/>
<line x1="585.00" y1="107.51" x2="628.30" y2="99.85"/>
<line x1="585.00" y1="73.78" x2="628.30" y2="100.65"/>
<line x1="585.00" y1="87.04" x2="628.30" y2="101.53"/>
<line x1="585.00" y1="77.69" x2="628.30" y2="101.93"/>
<line x1="585.00" y1="100.19" x2="628.30" y2="102.88"/>
<line x1="585.00" y1="71.99" x2="628.30" y2="103.68"/>
<line x1="585.00" y1="109.55" x2="628.30" y2="104.92"/>
<line x1="585.00" y1="99.50" x2="628.30" y2="105.83"/>
<line x1="585.00" y1="102.91" x2="628.30" y2="106.06"/>
<line x1="585.00" y1="113.68" x2="628.30" y2="106.92"/>
<line x1="585.00" y1="105.81" x2="628.30" y2="107.81"/>
<line x1="585.00" y1="93.12" x2="628.30" y2="108.66"/>
<line x1="585.00" y1="102.12" x2="628.30" y2="109.69"/>
<line x1="585.00" y1="115.27" x2="628.30" y2="110.62"/>
<line x1="585.00" y1="112.34" x2="628.30" y2="111.21"/>
<line x1="585.00" y1="114.86" x2="628.30" y2="111.86"/>
<line x1="585.00" y1="88.26" x2="628.30" y2="113.02"/>
<line x1="585.00" y1="95.79" x2="628.30" y2="113.83"/>
<line x1="585.00" y1="104.99" x2="628.30" y2="114.83"/>
</g>
<g fill="#ff1414">
<rect x="583.95" y="53.55" width="2.1" height="2.1"/>
<rect x="583.95" y="65.45" width="2.1" height="2.1"/>
<rect x="583.95" y="66.95" width="2.1" height="2.1"/>
<rect x="583.95" y="138.15" width="2.1" height="2.1"/>
<rect x="583.95" y="126.55" width="2.1" height="2.1"/>
<rect x="583.95" y="123.25" width="2.1" height="2.1"/>
<rect x="583.95" y="118.95" width="2.1" height="2.1"/>
<rect x="583.95" y="95.25" width="2.1" height="2.1"/>
<rect x="583.95" y="67.82" width="2.1" height="2.1"/>
<rect x="583.95" y="109.29" width="2.1" height="2.1"/>
<rect x="583.95" y="73.95" width="2.1" height="2.1"/>
<rect x="583.95" y="72.21" width="2.1" height="2.1"/>
<rect x="583.95" y="74.55" width="2.1" height="2.1"/>
<rect x="583.95" y="66.52" width="2.1" height="2.1"/>
<rect x="583.95" y="70.29" width="2.1" height="2.1"/>
<rect x="583.95" y="68.25" width="2.1" height="2.1"/>
<rect x="583.95" y="69.53" width="2.1" height="2.1"/>
<rect x="583.95" y="96.14" width="2.1" height="2.1"/>
<rect x="583.95" y="82.16" width="2.1" height="2.1"/>
<rect x="583.95" y="89.14" width="2.1" height="2.1"/>
<rect x="583.95" y="90.46" width="2.1" height="2.1"/>
<rect x="583.95" y="111.49" width="2.1" height="2.1"/>
<rect x="583.95" y="79.18" width="2.1" height="2.1"/>
<rect x="583.95" y="80.40" width="2.1" height="2.1"/>
<rect x="583.95" y="93.01" width="2.1" height="2.1"/>
<rect x="583.95" y="84.43" width="2.1" height="2.1"/>
<rect x="583.95" y="78.20" width="2.1" height="2.1"/>
<rect x="583.95" y="99.95" width="2.1" height="2.1"/>
<rect x="583.95" y="82.92" width="2.1" height="2.1"/>
<rect x="583.95" y="102.64" width="2.1" height="2.1"/>
<rect x="583.95" y="90.84" width="2.1" height="2.1"/>
<rect x="583.95" y="75.47" width="2.1" height="2.1"/>
<rect x="583.95" y="105.29" width="2.1" height="2.1"/>
<rect x="583.95" y="81.56" width="2.1" height="2.1"/>
<rect x="583.95" y="88.09" width="2.1" height="2.1"/>
<rect x="583.95" y="109.83" width="2.1" height="2.1"/>
<rect x="583.95" y="84.29" width="2.1" height="2.1"/>
<rect x="583.95" y="77.86" width="2.1" height="2.1"/>
<rect x="583.95" y="86.43" width="2.1" height="2.1"/>
<rect x="583.95" y="107.32" width="2.1" height="2.1"/>
<rect x="583.95" y="65.76" width="2.1" height="2.1"/>
<rect x="583.95" y="93.70" width="2.1" height="2.1"/>
<rect x="583.95" y="97.16" width="2.1" height="2.1"/>
<rect x="583.95" y="106.46" width="2.1" height="2.1"/>
<rect x="583.95" y="72.73" width="2.1" height="2.1"/>
<rect x="583.95" y="85.99" width="2.1" height="2.1"/>
<rect x="583.95" y="76.64" width="2.1" height="2.1"/>
<rect x="583.95" y="99.14" width="2.1" height="2.1"/>
<rect x="583.95" y="70.94" width="2.1" height="2.1"/>
<rect x="583.95" y="108.50" width="2.1" height="2.1"/>
<rect x="583.95" y="98.45" width="2.1" height="2.1"/>
<rect x="583.95" y="101.86" width="2.1" height="2.1"/>
<rect x="583.95" y="112.63" width="2.1" height="2.1"/>
<rect x="583.95" y="104.76" width="2.1" height="2.1"/>
<rect x="583.95" y="92.07" width="2.1" height="2.1"/>
<rect x="583.95" y="101.07" width="2.1" height="2.1"/>
<rect x="583.95" y="114.22" width="2.1" height="2.1"/>
<rect x="583.95" y="111.29" width="2.1" height="2.1"/>
<rect x="583.95" y="113.81" width="2.1" height="2.1"/>
<rect x="583.95" y="87.21" width="2.1" height="2.1"/>
<rect x="583.95" y="94.74" width="2.1" height="2.1"/>
<rect x="583.95" y="103.94" width="2.1" height="2.1"/>
</g>
<g fill="#a01212">
<rect x="627.25" y="42.45" width="2.1" height="2.1"/>
<rect x="627.25" y="55.25" width="2.1" height="2.1"/>
<rect x="627.25" y="61.85" width="2.1" height="2.1"/>
<rect x="627.25" y="132.85" width="2.1" height="2.1"/>
<rect x="627.25" y="124.95" width="2.1" height="2.1"/>
<rect x="627.25" y="123.95" width="2.1" height="2.1"/>
<rect x="627.25" y="117.45" width="2.1" height="2.1"/>
<rect x="627.25" y="68.06" width="2.1" height="2.1"/>
<rect x="627.25" y="68.57" width="2.1" height="2.1"/>
<rect x="627.25" y="69.89" width="2.1" height="2.1"/>
<rect x="627.25" y="70.81" width="2.1" height="2.1"/>
<rect x="627.25" y="71.51" width="2.1" height="2.1"/>
<rect x="627.25" y="72.59" width="2.1" height="2.1"/>
<rect x="627.25" y="73.00" width="2.1" height="2.1"/>
<rect x="627.25" y="74.14" width="2.1" height="2.1"/>
<rect x="627.25" y="74.91" width="2.1" height="2.1"/>
<rect x="627.25" y="75.74" width="2.1" height="2.1"/>
<rect x="627.25" y="76.49" width="2.1" height="2.1"/>
<rect x="627.25" y="77.63" width="2.1" height="2.1"/>
<rect x="627.25" y="78.56" width="2.1" height="2.1"/>
<rect x="627.25" y="79.04" width="2.1" height="2.1"/>
<rect x="627.25" y="80.03" width="2.1" height="2.1"/>
<rect x="627.25" y="80.42" width="2.1" height="2.1"/>
<rect x="627.25" y="81.75" width="2.1" height="2.1"/>
<rect x="627.25" y="82.56" width="2.1" height="2.1"/>
<rect x="627.25" y="83.67" width="2.1" height="2.1"/>
<rect x="627.25" y="84.38" width="2.1" height="2.1"/>
<rect x="627.25" y="84.82" width="2.1" height="2.1"/>
<rect x="627.25" y="85.74" width="2.1" height="2.1"/>
<rect x="627.25" y="86.80" width="2.1" height="2.1"/>
<rect x="627.25" y="87.15" width="2.1" height="2.1"/>
<rect x="627.25" y="88.33" width="2.1" height="2.1"/>
<rect x="627.25" y="88.96" width="2.1" height="2.1"/>
<rect x="627.25" y="89.76" width="2.1" height="2.1"/>
<rect x="627.25" y="90.56" width="2.1" height="2.1"/>
<rect x="627.25" y="91.95" width="2.1" height="2.1"/>
<rect x="627.25" y="92.31" width="2.1" height="2.1"/>
<rect x="627.25" y="93.24" width="2.1" height="2.1"/>
<rect x="627.25" y="94.20" width="2.1" height="2.1"/>
<rect x="627.25" y="95.41" width="2.1" height="2.1"/>
<rect x="627.25" y="95.65" width="2.1" height="2.1"/>
<rect x="627.25" y="96.78" width="2.1" height="2.1"/>
<rect x="627.25" y="97.70" width="2.1" height="2.1"/>
<rect x="627.25" y="98.80" width="2.1" height="2.1"/>
<rect x="627.25" y="99.60" width="2.1" height="2.1"/>
<rect x="627.25" y="100.48" width="2.1" height="2.1"/>
<rect x="627.25" y="100.88" width="2.1" height="2.1"/>
<rect x="627.25" y="101.83" width="2.1" height="2.1"/>
<rect x="627.25" y="102.63" width="2.1" height="2.1"/>
<rect x="627.25" y="103.87" width="2.1" height="2.1"/>
<rect x="627.25" y="104.78" width="2.1" height="2.1"/>
<rect x="627.25" y="105.01" width="2.1" height="2.1"/>
<rect x="627.25" y="105.87" width="2.1" height="2.1"/>
<rect x="627.25" y="106.76" width="2.1" height="2.1"/>
<rect x="627.25" y="107.61" width="2.1" height="2.1"/>
<rect x="627.25" y="108.64" width="2.1" height="2.1"/>
<rect x="627.25" y="109.57" width="2.1" height="2.1"/>
<rect x="627.25" y="110.16" width="2.1" height="2.1"/>
<rect x="627.25" y="110.81" width="2.1" height="2.1"/>
<rect x="627.25" y="111.97" width="2.1" height="2.1"/>
<rect x="627.25" y="112.78" width="2.1" height="2.1"/>
<rect x="627.25" y="113.78" width="2.1" height="2.1"/>
</g>
<path d="M555.90,93.9V97M553.30,93.9H558.50M553.30,97H558.50" stroke="#e03535" stroke-width="0.8" fill="none"/>
<path d="M555.90,92.20L559.20,95.50L555.90,98.80L552.60,95.50Z" fill="#f21a1a"/>
<path d="M658.90,91.8V94.9M656.30,91.8H661.50M656.30,94.9H661.50" stroke="#e03535" stroke-width="0.8" fill="none"/>
<path d="M658.90,90.60L661.70,93.40L658.90,96.20L656.10,93.40Z" fill="#b01515"/>
<rect x="27.2" y="174.5" width="143.8" height="25.4" fill="#edf5f9"/>
<path d="M51.5,199.9V187.5H152.5V199.9" fill="none" stroke="#3e9a7c" stroke-width="1.05"/>
<text transform="translate(99.9,178.6) scale(0.87,1)" class="hd" fill="#4474ab" stroke="#4474ab" text-anchor="middle" dominant-baseline="central"><tspan font-style="italic">Z</tspan> = 2.300,   <tspan font-style="italic">p</tspan> = 0.021</text>
<path d="M27.5,197.30V317.5H174.60" fill="none" stroke="#2a2a2a" stroke-width="1.05"/>
<line x1="24.9" y1="317.5" x2="27.5" y2="317.5" stroke="#2a2a2a" stroke-width="1"/>
<text transform="translate(23.7,317.35) scale(0.88,1)" class="tk" text-anchor="end" dominant-baseline="central">0</text>
<line x1="24.9" y1="287.5" x2="27.5" y2="287.5" stroke="#2a2a2a" stroke-width="1"/>
<text transform="translate(23.7,287.35) scale(0.88,1)" class="tk" text-anchor="end" dominant-baseline="central">10</text>
<line x1="24.9" y1="257.5" x2="27.5" y2="257.5" stroke="#2a2a2a" stroke-width="1"/>
<text transform="translate(23.7,257.35) scale(0.88,1)" class="tk" text-anchor="end" dominant-baseline="central">20</text>
<line x1="24.9" y1="227.5" x2="27.5" y2="227.5" stroke="#2a2a2a" stroke-width="1"/>
<text transform="translate(23.7,227.35) scale(0.88,1)" class="tk" text-anchor="end" dominant-baseline="central">30</text>
<line x1="24.9" y1="197.5" x2="27.5" y2="197.5" stroke="#2a2a2a" stroke-width="1"/>
<text transform="translate(23.7,197.35) scale(0.88,1)" class="tk" text-anchor="end" dominant-baseline="central">40</text>
<line x1="48.5" y1="317.5" x2="48.5" y2="320.1" stroke="#2a2a2a" stroke-width="1"/>
<line x1="77.5" y1="317.5" x2="77.5" y2="320.1" stroke="#2a2a2a" stroke-width="1"/>
<line x1="121.5" y1="317.5" x2="121.5" y2="320.1" stroke="#2a2a2a" stroke-width="1"/>
<line x1="151.5" y1="317.5" x2="151.5" y2="320.1" stroke="#2a2a2a" stroke-width="1"/>
<text transform="translate(48.80,323.2) scale(0.88,1)" class="xl" text-anchor="middle" dominant-baseline="central">Baseline</text>
<text transform="translate(48.80,330.3) scale(0.88,1)" class="xl" text-anchor="middle" dominant-baseline="central">w/error</text>
<text transform="translate(77.90,323.2) scale(0.88,1)" class="xl" text-anchor="middle" dominant-baseline="central">Baseline</text>
<text transform="translate(121.20,323.2) scale(0.88,1)" class="xl" text-anchor="middle" dominant-baseline="central">1-year</text>
<text transform="translate(151.80,323.2) scale(0.88,1)" class="xl" text-anchor="middle" dominant-baseline="central">1-year</text>
<text transform="translate(151.80,330.3) scale(0.88,1)" class="xl" text-anchor="middle" dominant-baseline="central">w/error</text>
<text transform="translate(4.6,257.2) rotate(-90) scale(0.88,1)" class="yl" fill="#2f9a78" stroke="#2f9a78" text-anchor="middle" dominant-baseline="central"><tspan font-style="italic">AP-</tspan> (IL-8, pg/ml)</text>
<g stroke="#62d062" stroke-width="0.5" fill="none" opacity="1">
<line x1="77.90" y1="214.80" x2="121.20" y2="274.90"/>
<line x1="77.90" y1="251.60" x2="121.20" y2="246.60"/>
<line x1="77.90" y1="306.00" x2="121.20" y2="238.80"/>
<line x1="77.90" y1="304.80" x2="121.20" y2="245.50"/>
<line x1="77.90" y1="274.10" x2="121.20" y2="260.50"/>
<line x1="77.90" y1="300.10" x2="121.20" y2="268.20"/>
<line x1="77.90" y1="276.40" x2="121.20" y2="277.60"/>
<line x1="77.90" y1="284.70" x2="121.20" y2="278.80"/>
<line x1="77.90" y1="281.90" x2="121.20" y2="281.90"/>
<line x1="77.90" y1="294.20" x2="121.20" y2="285.90"/>
<line x1="77.90" y1="295.30" x2="121.20" y2="287.10"/>
<line x1="77.90" y1="277.60" x2="121.20" y2="288.20"/>
<line x1="77.90" y1="288.60" x2="121.20" y2="290.60"/>
<line x1="77.90" y1="278.80" x2="121.20" y2="291.80"/>
<line x1="77.90" y1="289.80" x2="121.20" y2="294.60"/>
<line x1="77.90" y1="293.00" x2="121.20" y2="295.70"/>
<line x1="77.90" y1="307.90" x2="121.20" y2="296.90"/>
<line x1="77.90" y1="309.50" x2="121.20" y2="298.10"/>
<line x1="77.90" y1="297.70" x2="121.20" y2="299.30"/>
<line x1="77.90" y1="296.50" x2="121.20" y2="300.50"/>
<line x1="77.90" y1="301.20" x2="121.20" y2="302.00"/>
<line x1="77.90" y1="298.90" x2="121.20" y2="303.20"/>
</g>
<g fill="#0f5e0f">
<rect x="76.85" y="213.75" width="2.1" height="2.1"/>
<rect x="76.85" y="250.55" width="2.1" height="2.1"/>
<rect x="76.85" y="304.95" width="2.1" height="2.1"/>
<rect x="76.85" y="303.75" width="2.1" height="2.1"/>
<rect x="76.85" y="273.05" width="2.1" height="2.1"/>
<rect x="76.85" y="299.05" width="2.1" height="2.1"/>
<rect x="76.85" y="275.35" width="2.1" height="2.1"/>
<rect x="76.85" y="283.65" width="2.1" height="2.1"/>
<rect x="76.85" y="280.85" width="2.1" height="2.1"/>
<rect x="76.85" y="293.15" width="2.1" height="2.1"/>
<rect x="76.85" y="294.25" width="2.1" height="2.1"/>
<rect x="76.85" y="276.55" width="2.1" height="2.1"/>
<rect x="76.85" y="287.55" width="2.1" height="2.1"/>
<rect x="76.85" y="277.75" width="2.1" height="2.1"/>
<rect x="76.85" y="288.75" width="2.1" height="2.1"/>
<rect x="76.85" y="291.95" width="2.1" height="2.1"/>
<rect x="76.85" y="306.85" width="2.1" height="2.1"/>
<rect x="76.85" y="308.45" width="2.1" height="2.1"/>
<rect x="76.85" y="296.65" width="2.1" height="2.1"/>
<rect x="76.85" y="295.45" width="2.1" height="2.1"/>
<rect x="76.85" y="300.15" width="2.1" height="2.1"/>
<rect x="76.85" y="297.85" width="2.1" height="2.1"/>
</g>
<g fill="#0f5e0f">
<rect x="120.15" y="273.85" width="2.1" height="2.1"/>
<rect x="120.15" y="245.55" width="2.1" height="2.1"/>
<rect x="120.15" y="237.75" width="2.1" height="2.1"/>
<rect x="120.15" y="244.45" width="2.1" height="2.1"/>
<rect x="120.15" y="259.45" width="2.1" height="2.1"/>
<rect x="120.15" y="267.15" width="2.1" height="2.1"/>
<rect x="120.15" y="276.55" width="2.1" height="2.1"/>
<rect x="120.15" y="277.75" width="2.1" height="2.1"/>
<rect x="120.15" y="280.85" width="2.1" height="2.1"/>
<rect x="120.15" y="284.85" width="2.1" height="2.1"/>
<rect x="120.15" y="286.05" width="2.1" height="2.1"/>
<rect x="120.15" y="287.15" width="2.1" height="2.1"/>
<rect x="120.15" y="289.55" width="2.1" height="2.1"/>
<rect x="120.15" y="290.75" width="2.1" height="2.1"/>
<rect x="120.15" y="293.55" width="2.1" height="2.1"/>
<rect x="120.15" y="294.65" width="2.1" height="2.1"/>
<rect x="120.15" y="295.85" width="2.1" height="2.1"/>
<rect x="120.15" y="297.05" width="2.1" height="2.1"/>
<rect x="120.15" y="298.25" width="2.1" height="2.1"/>
<rect x="120.15" y="299.45" width="2.1" height="2.1"/>
<rect x="120.15" y="300.95" width="2.1" height="2.1"/>
<rect x="120.15" y="302.15" width="2.1" height="2.1"/>
</g>
<path d="M48.80,287.3V295.6M46.20,287.3H51.40M46.20,295.6H51.40" stroke="#4a8f4a" stroke-width="0.8" fill="none"/>
<path d="M48.80,288.65L51.65,291.50L48.80,294.35L45.95,291.50Z" fill="#fff" stroke="#2b7a2b" stroke-width="1.05"/>
<path d="M151.80,281.4V287.3M149.20,281.4H154.40M149.20,287.3H154.40" stroke="#4a8f4a" stroke-width="0.8" fill="none"/>
<path d="M151.80,281.40L154.60,284.20L151.80,287.00L149.00,284.20Z" fill="#1e6a1e"/>
<path d="M221.5,198.4V186.5H322.5V198.4" fill="none" stroke="#ec3434" stroke-width="1.05"/>
<text transform="translate(272.2,178.1) scale(0.87,1)" class="hd" fill="#c42a2a" stroke="#c42a2a" text-anchor="middle" dominant-baseline="central"><tspan font-style="italic">Z</tspan> = 0.162,   <tspan font-style="italic">p</tspan> = 0.871</text>
<path d="M198.5,197.30V317.5H345.60" fill="none" stroke="#2a2a2a" stroke-width="1.05"/>
<line x1="195.9" y1="317.5" x2="198.5" y2="317.5" stroke="#2a2a2a" stroke-width="1"/>
<text transform="translate(194.7,317.35) scale(0.88,1)" class="tk" text-anchor="end" dominant-baseline="central">0</text>
<line x1="195.9" y1="287.5" x2="198.5" y2="287.5" stroke="#2a2a2a" stroke-width="1"/>
<text transform="translate(194.7,287.35) scale(0.88,1)" class="tk" text-anchor="end" dominant-baseline="central">10</text>
<line x1="195.9" y1="257.5" x2="198.5" y2="257.5" stroke="#2a2a2a" stroke-width="1"/>
<text transform="translate(194.7,257.35) scale(0.88,1)" class="tk" text-anchor="end" dominant-baseline="central">20</text>
<line x1="195.9" y1="227.5" x2="198.5" y2="227.5" stroke="#2a2a2a" stroke-width="1"/>
<text transform="translate(194.7,227.35) scale(0.88,1)" class="tk" text-anchor="end" dominant-baseline="central">30</text>
<line x1="195.9" y1="197.5" x2="198.5" y2="197.5" stroke="#2a2a2a" stroke-width="1"/>
<text transform="translate(194.7,197.35) scale(0.88,1)" class="tk" text-anchor="end" dominant-baseline="central">40</text>
<line x1="219.5" y1="317.5" x2="219.5" y2="320.1" stroke="#2a2a2a" stroke-width="1"/>
<line x1="248.5" y1="317.5" x2="248.5" y2="320.1" stroke="#2a2a2a" stroke-width="1"/>
<line x1="292.5" y1="317.5" x2="292.5" y2="320.1" stroke="#2a2a2a" stroke-width="1"/>
<line x1="322.5" y1="317.5" x2="322.5" y2="320.1" stroke="#2a2a2a" stroke-width="1"/>
<text transform="translate(219.80,323.2) scale(0.88,1)" class="xl" text-anchor="middle" dominant-baseline="central">Baseline</text>
<text transform="translate(219.80,330.3) scale(0.88,1)" class="xl" text-anchor="middle" dominant-baseline="central">w/error</text>
<text transform="translate(248.90,323.2) scale(0.88,1)" class="xl" text-anchor="middle" dominant-baseline="central">Baseline</text>
<text transform="translate(292.20,323.2) scale(0.88,1)" class="xl" text-anchor="middle" dominant-baseline="central">1-year</text>
<text transform="translate(322.80,323.2) scale(0.88,1)" class="xl" text-anchor="middle" dominant-baseline="central">1-year</text>
<text transform="translate(322.80,330.3) scale(0.88,1)" class="xl" text-anchor="middle" dominant-baseline="central">w/error</text>
<text transform="translate(175.2,252.3) rotate(-90) scale(0.88,1)" class="yl" fill="#cc2a2a" stroke="#cc2a2a" text-anchor="middle" dominant-baseline="central"><tspan font-style="italic">AP+</tspan> (IL-8, pg/ml)</text>
<g stroke="#e35a5a" stroke-width="0.38" fill="none" opacity="1">
<line x1="248.90" y1="214.80" x2="292.20" y2="280.00"/>
<line x1="248.90" y1="247.70" x2="292.20" y2="262.00"/>
<line x1="248.90" y1="256.60" x2="292.20" y2="282.00"/>
<line x1="248.90" y1="265.00" x2="292.20" y2="275.00"/>
<line x1="248.90" y1="278.00" x2="292.20" y2="237.40"/>
<line x1="248.90" y1="275.00" x2="292.20" y2="255.50"/>
<line x1="248.90" y1="280.00" x2="292.20" y2="258.70"/>
<line x1="248.90" y1="283.00" x2="292.20" y2="263.20"/>
<line x1="248.90" y1="275.73" x2="292.20" y2="268.70"/>
<line x1="248.90" y1="273.18" x2="292.20" y2="269.43"/>
<line x1="248.90" y1="277.00" x2="292.20" y2="270.31"/>
<line x1="248.90" y1="305.02" x2="292.20" y2="270.87"/>
<line x1="248.90" y1="281.70" x2="292.20" y2="272.02"/>
<line x1="248.90" y1="278.93" x2="292.20" y2="272.99"/>
<line x1="248.90" y1="293.96" x2="292.20" y2="273.36"/>
<line x1="248.90" y1="284.77" x2="292.20" y2="274.35"/>
<line x1="248.90" y1="278.64" x2="292.20" y2="275.26"/>
<line x1="248.90" y1="284.20" x2="292.20" y2="275.41"/>
<line x1="248.90" y1="285.84" x2="292.20" y2="276.23"/>
<line x1="248.90" y1="277.69" x2="292.20" y2="277.45"/>
<line x1="248.90" y1="275.47" x2="292.20" y2="278.23"/>
<line x1="248.90" y1="276.40" x2="292.20" y2="278.86"/>
<line x1="248.90" y1="293.35" x2="292.20" y2="279.29"/>
<line x1="248.90" y1="282.58" x2="292.20" y2="280.22"/>
<line x1="248.90" y1="280.28" x2="292.20" y2="281.29"/>
<line x1="248.90" y1="296.81" x2="292.20" y2="282.06"/>
<line x1="248.90" y1="300.01" x2="292.20" y2="282.77"/>
<line x1="248.90" y1="295.22" x2="292.20" y2="283.12"/>
<line x1="248.90" y1="286.45" x2="292.20" y2="284.32"/>
<line x1="248.90" y1="302.92" x2="292.20" y2="284.75"/>
<line x1="248.90" y1="308.12" x2="292.20" y2="285.75"/>
<line x1="248.90" y1="291.44" x2="292.20" y2="286.11"/>
<line x1="248.90" y1="298.68" x2="292.20" y2="287.44"/>
<line x1="248.90" y1="292.24" x2="292.20" y2="287.95"/>
<line x1="248.90" y1="287.75" x2="292.20" y2="288.79"/>
<line x1="248.90" y1="283.40" x2="292.20" y2="289.20"/>
<line x1="248.90" y1="300.30" x2="292.20" y2="290.24"/>
<line x1="248.90" y1="274.73" x2="292.20" y2="290.98"/>
<line x1="248.90" y1="289.68" x2="292.20" y2="291.74"/>
<line x1="248.90" y1="292.78" x2="292.20" y2="292.34"/>
<line x1="248.90" y1="294.64" x2="292.20" y2="293.36"/>
<line x1="248.90" y1="297.45" x2="292.20" y2="293.85"/>
<line x1="248.90" y1="274.08" x2="292.20" y2="294.58"/>
<line x1="248.90" y1="287.09" x2="292.20" y2="295.25"/>
<line x1="248.90" y1="279.81" x2="292.20" y2="296.37"/>
<line x1="248.90" y1="298.20" x2="292.20" y2="296.73"/>
<line x1="248.90" y1="302.26" x2="292.20" y2="297.57"/>
<line x1="248.90" y1="299.25" x2="292.20" y2="298.23"/>
<line x1="248.90" y1="288.35" x2="292.20" y2="299.38"/>
<line x1="248.90" y1="291.00" x2="292.20" y2="300.08"/>
<line x1="248.90" y1="289.12" x2="292.20" y2="300.83"/>
<line x1="248.90" y1="280.97" x2="292.20" y2="301.24"/>
<line x1="248.90" y1="295.76" x2="292.20" y2="302.28"/>
<line x1="248.90" y1="301.77" x2="292.20" y2="302.97"/>
<line x1="248.90" y1="306.27" x2="292.20" y2="303.56"/>
<line x1="248.90" y1="283.10" x2="292.20" y2="304.26"/>
<line x1="248.90" y1="290.01" x2="292.20" y2="305.70"/>
<line x1="248.90" y1="301.26" x2="292.20" y2="305.86"/>
<line x1="248.90" y1="303.76" x2="292.20" y2="306.74"/>
<line x1="248.90" y1="305.75" x2="292.20" y2="307.48"/>
<line x1="248.90" y1="306.77" x2="292.20" y2="308.47"/>
<line x1="248.90" y1="307.62" x2="292.20" y2="308.87"/>
<line x1="248.90" y1="304.25" x2="292.20" y2="309.90"/>
</g>
<g fill="#ff1414">
<rect x="247.85" y="213.75" width="2.1" height="2.1"/>
<rect x="247.85" y="246.65" width="2.1" height="2.1"/>
<rect x="247.85" y="255.55" width="2.1" height="2.1"/>
<rect x="247.85" y="263.95" width="2.1" height="2.1"/>
<rect x="247.85" y="276.95" width="2.1" height="2.1"/>
<rect x="247.85" y="273.95" width="2.1" height="2.1"/>
<rect x="247.85" y="278.95" width="2.1" height="2.1"/>
<rect x="247.85" y="281.95" width="2.1" height="2.1"/>
<rect x="247.85" y="274.68" width="2.1" height="2.1"/>
<rect x="247.85" y="272.13" width="2.1" height="2.1"/>
<rect x="247.85" y="275.95" width="2.1" height="2.1"/>
<rect x="247.85" y="303.97" width="2.1" height="2.1"/>
<rect x="247.85" y="280.65" width="2.1" height="2.1"/>
<rect x="247.85" y="277.88" width="2.1" height="2.1"/>
<rect x="247.85" y="292.91" width="2.1" height="2.1"/>
<rect x="247.85" y="283.72" width="2.1" height="2.1"/>
<rect x="247.85" y="277.59" width="2.1" height="2.1"/>
<rect x="247.85" y="283.15" width="2.1" height="2.1"/>
<rect x="247.85" y="284.79" width="2.1" height="2.1"/>
<rect x="247.85" y="276.64" width="2.1" height="2.1"/>
<rect x="247.85" y="274.42" width="2.1" height="2.1"/>
<rect x="247.85" y="275.35" width="2.1" height="2.1"/>
<rect x="247.85" y="292.30" width="2.1" height="2.1"/>
<rect x="247.85" y="281.53" width="2.1" height="2.1"/>
<rect x="247.85" y="279.23" width="2.1" height="2.1"/>
<rect x="247.85" y="295.76" width="2.1" height="2.1"/>
<rect x="247.85" y="298.96" width="2.1" height="2.1"/>
<rect x="247.85" y="294.17" width="2.1" height="2.1"/>
<rect x="247.85" y="285.40" width="2.1" height="2.1"/>
<rect x="247.85" y="301.87" width="2.1" height="2.1"/>
<rect x="247.85" y="307.07" width="2.1" height="2.1"/>
<rect x="247.85" y="290.39" width="2.1" height="2.1"/>
<rect x="247.85" y="297.63" width="2.1" height="2.1"/>
<rect x="247.85" y="291.19" width="2.1" height="2.1"/>
<rect x="247.85" y="286.70" width="2.1" height="2.1"/>
<rect x="247.85" y="282.35" width="2.1" height="2.1"/>
<rect x="247.85" y="299.25" width="2.1" height="2.1"/>
<rect x="247.85" y="273.68" width="2.1" height="2.1"/>
<rect x="247.85" y="288.63" width="2.1" height="2.1"/>
<rect x="247.85" y="291.73" width="2.1" height="2.1"/>
<rect x="247.85" y="293.59" width="2.1" height="2.1"/>
<rect x="247.85" y="296.40" width="2.1" height="2.1"/>
<rect x="247.85" y="273.03" width="2.1" height="2.1"/>
<rect x="247.85" y="286.04" width="2.1" height="2.1"/>
<rect x="247.85" y="278.76" width="2.1" height="2.1"/>
<rect x="247.85" y="297.15" width="2.1" height="2.1"/>
<rect x="247.85" y="301.21" width="2.1" height="2.1"/>
<rect x="247.85" y="298.20" width="2.1" height="2.1"/>
<rect x="247.85" y="287.30" width="2.1" height="2.1"/>
<rect x="247.85" y="289.95" width="2.1" height="2.1"/>
<rect x="247.85" y="288.07" width="2.1" height="2.1"/>
<rect x="247.85" y="279.92" width="2.1" height="2.1"/>
<rect x="247.85" y="294.71" width="2.1" height="2.1"/>
<rect x="247.85" y="300.72" width="2.1" height="2.1"/>
<rect x="247.85" y="305.22" width="2.1" height="2.1"/>
<rect x="247.85" y="282.05" width="2.1" height="2.1"/>
<rect x="247.85" y="288.96" width="2.1" height="2.1"/>
<rect x="247.85" y="300.21" width="2.1" height="2.1"/>
<rect x="247.85" y="302.71" width="2.1" height="2.1"/>
<rect x="247.85" y="304.70" width="2.1" height="2.1"/>
<rect x="247.85" y="305.72" width="2.1" height="2.1"/>
<rect x="247.85" y="306.57" width="2.1" height="2.1"/>
<rect x="247.85" y="303.20" width="2.1" height="2.1"/>
</g>
<g fill="#a01212">
<rect x="291.15" y="278.95" width="2.1" height="2.1"/>
<rect x="291.15" y="260.95" width="2.1" height="2.1"/>
<rect x="291.15" y="280.95" width="2.1" height="2.1"/>
<rect x="291.15" y="273.95" width="2.1" height="2.1"/>
<rect x="291.15" y="236.35" width="2.1" height="2.1"/>
<rect x="291.15" y="254.45" width="2.1" height="2.1"/>
<rect x="291.15" y="257.65" width="2.1" height="2.1"/>
<rect x="291.15" y="262.15" width="2.1" height="2.1"/>
<rect x="291.15" y="267.65" width="2.1" height="2.1"/>
<rect x="291.15" y="268.38" width="2.1" height="2.1"/>
<rect x="291.15" y="269.26" width="2.1" height="2.1"/>
<rect x="291.15" y="269.82" width="2.1" height="2.1"/>
<rect x="291.15" y="270.97" width="2.1" height="2.1"/>
<rect x="291.15" y="271.94" width="2.1" height="2.1"/>
<rect x="291.15" y="272.31" width="2.1" height="2.1"/>
<rect x="291.15" y="273.30" width="2.1" height="2.1"/>
<rect x="291.15" y="274.21" width="2.1" height="2.1"/>
<rect x="291.15" y="274.36" width="2.1" height="2.1"/>
<rect x="291.15" y="275.18" width="2.1" height="2.1"/>
<rect x="291.15" y="276.40" width="2.1" height="2.1"/>
<rect x="291.15" y="277.18" width="2.1" height="2.1"/>
<rect x="291.15" y="277.81" width="2.1" height="2.1"/>
<rect x="291.15" y="278.24" width="2.1" height="2.1"/>
<rect x="291.15" y="279.17" width="2.1" height="2.1"/>
<rect x="291.15" y="280.24" width="2.1" height="2.1"/>
<rect x="291.15" y="281.01" width="2.1" height="2.1"/>
<rect x="291.15" y="281.72" width="2.1" height="2.1"/>
<rect x="291.15" y="282.07" width="2.1" height="2.1"/>
<rect x="291.15" y="283.27" width="2.1" height="2.1"/>
<rect x="291.15" y="283.70" width="2.1" height="2.1"/>
<rect x="291.15" y="284.70" width="2.1" height="2.1"/>
<rect x="291.15" y="285.06" width="2.1" height="2.1"/>
<rect x="291.15" y="286.39" width="2.1" height="2.1"/>
<rect x="291.15" y="286.90" width="2.1" height="2.1"/>
<rect x="291.15" y="287.74" width="2.1" height="2.1"/>
<rect x="291.15" y="288.15" width="2.1" height="2.1"/>
<rect x="291.15" y="289.19" width="2.1" height="2.1"/>
<rect x="291.15" y="289.93" width="2.1" height="2.1"/>
<rect x="291.15" y="290.69" width="2.1" height="2.1"/>
<rect x="291.15" y="291.29" width="2.1" height="2.1"/>
<rect x="291.15" y="292.31" width="2.1" height="2.1"/>
<rect x="291.15" y="292.80" width="2.1" height="2.1"/>
<rect x="291.15" y="293.53" width="2.1" height="2.1"/>
<rect x="291.15" y="294.20" width="2.1" height="2.1"/>
<rect x="291.15" y="295.32" width="2.1" height="2.1"/>
<rect x="291.15" y="295.68" width="2.1" height="2.1"/>
<rect x="291.15" y="296.52" width="2.1" height="2.1"/>
<rect x="291.15" y="297.18" width="2.1" height="2.1"/>
<rect x="291.15" y="298.33" width="2.1" height="2.1"/>
<rect x="291.15" y="299.03" width="2.1" height="2.1"/>
<rect x="291.15" y="299.78" width="2.1" height="2.1"/>
<rect x="291.15" y="300.19" width="2.1" height="2.1"/>
<rect x="291.15" y="301.23" width="2.1" height="2.1"/>
<rect x="291.15" y="301.92" width="2.1" height="2.1"/>
<rect x="291.15" y="302.51" width="2.1" height="2.1"/>
<rect x="291.15" y="303.21" width="2.1" height="2.1"/>
<rect x="291.15" y="304.65" width="2.1" height="2.1"/>
<rect x="291.15" y="304.81" width="2.1" height="2.1"/>
<rect x="291.15" y="305.69" width="2.1" height="2.1"/>
<rect x="291.15" y="306.43" width="2.1" height="2.1"/>
<rect x="291.15" y="307.42" width="2.1" height="2.1"/>
<rect x="291.15" y="307.82" width="2.1" height="2.1"/>
<rect x="291.15" y="308.85" width="2.1" height="2.1"/>
</g>
<path d="M219.80,287.3V291.5M217.20,287.3H222.40M217.20,291.5H222.40" stroke="#e03535" stroke-width="0.8" fill="none"/>
<path d="M219.80,286.10L223.10,289.40L219.80,292.70L216.50,289.40Z" fill="#f21a1a"/>
<path d="M322.80,287.3V291M320.20,287.3H325.40M320.20,291H325.40" stroke="#e03535" stroke-width="0.8" fill="none"/>
<path d="M322.80,286.30L325.60,289.10L322.80,291.90L320.00,289.10Z" fill="#b01515"/>
<path d="M386.5,198.6V186.5H487.5V198.6" fill="none" stroke="#3e9a7c" stroke-width="1.05"/>
<text transform="translate(437.1,178.1) scale(0.87,1)" class="hd" fill="#4474ab" stroke="#4474ab" text-anchor="middle" dominant-baseline="central"><tspan font-style="italic">Z</tspan> = 1.492,   <tspan font-style="italic">p</tspan> = 0.136</text>
<path d="M364.5,198.50V318.5H512.20" fill="none" stroke="#2a2a2a" stroke-width="1.05"/>
<line x1="361.9" y1="318.5" x2="364.5" y2="318.5" stroke="#2a2a2a" stroke-width="1"/>
<text transform="translate(361.3,318.35) scale(0.88,1)" class="tk" text-anchor="end" dominant-baseline="central">0</text>
<line x1="361.9" y1="278.5" x2="364.5" y2="278.5" stroke="#2a2a2a" stroke-width="1"/>
<text transform="translate(361.3,278.35) scale(0.88,1)" class="tk" text-anchor="end" dominant-baseline="central">1</text>
<line x1="361.9" y1="238.5" x2="364.5" y2="238.5" stroke="#2a2a2a" stroke-width="1"/>
<text transform="translate(361.3,238.35) scale(0.88,1)" class="tk" text-anchor="end" dominant-baseline="central">2</text>
<line x1="361.9" y1="198.5" x2="364.5" y2="198.5" stroke="#2a2a2a" stroke-width="1"/>
<text transform="translate(361.3,198.35) scale(0.88,1)" class="tk" text-anchor="end" dominant-baseline="central">3</text>
<line x1="386.5" y1="318.5" x2="386.5" y2="321.1" stroke="#2a2a2a" stroke-width="1"/>
<line x1="415.5" y1="318.5" x2="415.5" y2="321.1" stroke="#2a2a2a" stroke-width="1"/>
<line x1="458.5" y1="318.5" x2="458.5" y2="321.1" stroke="#2a2a2a" stroke-width="1"/>
<line x1="489.5" y1="318.5" x2="489.5" y2="321.1" stroke="#2a2a2a" stroke-width="1"/>
<text transform="translate(386.40,324.3) scale(0.88,1)" class="xl" text-anchor="middle" dominant-baseline="central">Baseline</text>
<text transform="translate(386.40,331.40000000000003) scale(0.88,1)" class="xl" text-anchor="middle" dominant-baseline="central">w/error</text>
<text transform="translate(415.50,324.3) scale(0.88,1)" class="xl" text-anchor="middle" dominant-baseline="central">Baseline</text>
<text transform="translate(458.80,324.3) scale(0.88,1)" class="xl" text-anchor="middle" dominant-baseline="central">1-year</text>
<text transform="translate(489.40,324.3) scale(0.88,1)" class="xl" text-anchor="middle" dominant-baseline="central">1-year</text>
<text transform="translate(489.40,331.40000000000003) scale(0.88,1)" class="xl" text-anchor="middle" dominant-baseline="central">w/error</text>
<text transform="translate(345.7,252.6) rotate(-90) scale(0.88,1)" class="yl" fill="#2f9a78" stroke="#2f9a78" text-anchor="middle" dominant-baseline="central"><tspan font-style="italic">AP-</tspan> (IL-6, pg/ml)</text>
<g stroke="#62d062" stroke-width="0.5" fill="none" opacity="1">
<line x1="415.50" y1="216.40" x2="458.80" y2="290.50"/>
<line x1="415.50" y1="236.80" x2="458.80" y2="247.70"/>
<line x1="415.50" y1="262.20" x2="458.80" y2="221.90"/>
<line x1="415.50" y1="299.90" x2="458.80" y2="300.60"/>
<line x1="415.50" y1="276.50" x2="458.80" y2="278.00"/>
<line x1="415.50" y1="302.90" x2="458.80" y2="271.60"/>
<line x1="415.50" y1="238.30" x2="458.80" y2="245.00"/>
<line x1="415.50" y1="292.70" x2="458.80" y2="246.30"/>
<line x1="415.50" y1="260.70" x2="458.80" y2="250.00"/>
<line x1="415.50" y1="290.10" x2="458.80" y2="256.00"/>
<line x1="415.50" y1="240.90" x2="458.80" y2="260.30"/>
<line x1="415.50" y1="255.80" x2="458.80" y2="263.30"/>
<line x1="415.50" y1="267.40" x2="458.80" y2="275.40"/>
<line x1="415.50" y1="264.40" x2="458.80" y2="281.00"/>
<line x1="415.50" y1="284.00" x2="458.80" y2="288.20"/>
<line x1="415.50" y1="285.20" x2="458.80" y2="289.00"/>
<line x1="415.50" y1="259.10" x2="458.80" y2="289.70"/>
<line x1="415.50" y1="253.00" x2="458.80" y2="291.20"/>
<line x1="415.50" y1="282.90" x2="458.80" y2="292.20"/>
<line x1="415.50" y1="281.80" x2="458.80" y2="295.00"/>
<line x1="415.50" y1="287.80" x2="458.80" y2="296.50"/>
<line x1="415.50" y1="280.60" x2="458.80" y2="297.00"/>
<line x1="415.50" y1="288.90" x2="458.80" y2="298.00"/>
<line x1="415.50" y1="295.00" x2="458.80" y2="299.50"/>
<line x1="415.50" y1="293.80" x2="458.80" y2="301.00"/>
</g>
<g fill="#0f5e0f">
<rect x="414.45" y="215.35" width="2.1" height="2.1"/>
<rect x="414.45" y="235.75" width="2.1" height="2.1"/>
<rect x="414.45" y="261.15" width="2.1" height="2.1"/>
<rect x="414.45" y="298.85" width="2.1" height="2.1"/>
<rect x="414.45" y="275.45" width="2.1" height="2.1"/>
<rect x="414.45" y="301.85" width="2.1" height="2.1"/>
<rect x="414.45" y="237.25" width="2.1" height="2.1"/>
<rect x="414.45" y="291.65" width="2.1" height="2.1"/>
<rect x="414.45" y="259.65" width="2.1" height="2.1"/>
<rect x="414.45" y="289.05" width="2.1" height="2.1"/>
<rect x="414.45" y="239.85" width="2.1" height="2.1"/>
<rect x="414.45" y="254.75" width="2.1" height="2.1"/>
<rect x="414.45" y="266.35" width="2.1" height="2.1"/>
<rect x="414.45" y="263.35" width="2.1" height="2.1"/>
<rect x="414.45" y="282.95" width="2.1" height="2.1"/>
<rect x="414.45" y="284.15" width="2.1" height="2.1"/>
<rect x="414.45" y="258.05" width="2.1" height="2.1"/>
<rect x="414.45" y="251.95" width="2.1" height="2.1"/>
<rect x="414.45" y="281.85" width="2.1" height="2.1"/>
<rect x="414.45" y="280.75" width="2.1" height="2.1"/>
<rect x="414.45" y="286.75" width="2.1" height="2.1"/>
<rect x="414.45" y="279.55" width="2.1" height="2.1"/>
<rect x="414.45" y="287.85" width="2.1" height="2.1"/>
<rect x="414.45" y="293.95" width="2.1" height="2.1"/>
<rect x="414.45" y="292.75" width="2.1" height="2.1"/>
</g>
<g fill="#0f5e0f">
<rect x="457.75" y="289.45" width="2.1" height="2.1"/>
<rect x="457.75" y="246.65" width="2.1" height="2.1"/>
<rect x="457.75" y="220.85" width="2.1" height="2.1"/>
<rect x="457.75" y="299.55" width="2.1" height="2.1"/>
<rect x="457.75" y="276.95" width="2.1" height="2.1"/>
<rect x="457.75" y="270.55" width="2.1" height="2.1"/>
<rect x="457.75" y="243.95" width="2.1" height="2.1"/>
<rect x="457.75" y="245.25" width="2.1" height="2.1"/>
<rect x="457.75" y="248.95" width="2.1" height="2.1"/>
<rect x="457.75" y="254.95" width="2.1" height="2.1"/>
<rect x="457.75" y="259.25" width="2.1" height="2.1"/>
<rect x="457.75" y="262.25" width="2.1" height="2.1"/>
<rect x="457.75" y="274.35" width="2.1" height="2.1"/>
<rect x="457.75" y="279.95" width="2.1" height="2.1"/>
<rect x="457.75" y="287.15" width="2.1" height="2.1"/>
<rect x="457.75" y="287.95" width="2.1" height="2.1"/>
<rect x="457.75" y="288.65" width="2.1" height="2.1"/>
<rect x="457.75" y="290.15" width="2.1" height="2.1"/>
<rect x="457.75" y="291.15" width="2.1" height="2.1"/>
<rect x="457.75" y="293.95" width="2.1" height="2.1"/>
<rect x="457.75" y="295.45" width="2.1" height="2.1"/>
<rect x="457.75" y="295.95" width="2.1" height="2.1"/>
<rect x="457.75" y="296.95" width="2.1" height="2.1"/>
<rect x="457.75" y="298.45" width="2.1" height="2.1"/>
<rect x="457.75" y="299.95" width="2.1" height="2.1"/>
</g>
<path d="M386.40,259.3V271.8M383.80,259.3H389.00M383.80,271.8H389.00" stroke="#4a8f4a" stroke-width="0.8" fill="none"/>
<path d="M386.40,262.65L389.25,265.50L386.40,268.35L383.55,265.50Z" fill="#fff" stroke="#2b7a2b" stroke-width="1.05"/>
<path d="M489.40,265.5V276.4M486.80,265.5H492.00M486.80,276.4H492.00" stroke="#4a8f4a" stroke-width="0.8" fill="none"/>
<path d="M489.40,268.40L492.20,271.20L489.40,274.00L486.60,271.20Z" fill="#1e6a1e"/>
<rect x="537.8" y="173" width="144.2" height="28.2" fill="#f9f2f5"/>
<path d="M556.5,197.3V186.5H657.5V197.3" fill="none" stroke="#ec3434" stroke-width="1.05"/>
<text transform="translate(606.6,177.29999999999998) scale(0.87,1)" class="hd" fill="#c42a2a" stroke="#c42a2a" text-anchor="middle" dominant-baseline="central"><tspan font-style="italic">Z</tspan> = 3.512,   <tspan font-style="italic">p</tspan> &lt; 0.001</text>
<path d="M536.5,197.30V317.5H683.90" fill="none" stroke="#2a2a2a" stroke-width="1.05"/>
<line x1="533.9" y1="317.5" x2="536.5" y2="317.5" stroke="#2a2a2a" stroke-width="1"/>
<text transform="translate(533.0,317.35) scale(0.88,1)" class="tk" text-anchor="end" dominant-baseline="central">0</text>
<line x1="533.9" y1="277.5" x2="536.5" y2="277.5" stroke="#2a2a2a" stroke-width="1"/>
<text transform="translate(533.0,277.35) scale(0.88,1)" class="tk" text-anchor="end" dominant-baseline="central">1</text>
<line x1="533.9" y1="237.5" x2="536.5" y2="237.5" stroke="#2a2a2a" stroke-width="1"/>
<text transform="translate(533.0,237.35) scale(0.88,1)" class="tk" text-anchor="end" dominant-baseline="central">2</text>
<line x1="533.9" y1="197.5" x2="536.5" y2="197.5" stroke="#2a2a2a" stroke-width="1"/>
<text transform="translate(533.0,197.35) scale(0.88,1)" class="tk" text-anchor="end" dominant-baseline="central">3</text>
<line x1="558.5" y1="317.5" x2="558.5" y2="320.1" stroke="#2a2a2a" stroke-width="1"/>
<line x1="587.5" y1="317.5" x2="587.5" y2="320.1" stroke="#2a2a2a" stroke-width="1"/>
<line x1="630.5" y1="317.5" x2="630.5" y2="320.1" stroke="#2a2a2a" stroke-width="1"/>
<line x1="661.5" y1="317.5" x2="661.5" y2="320.1" stroke="#2a2a2a" stroke-width="1"/>
<text transform="translate(558.10,323.2) scale(0.88,1)" class="xl" text-anchor="middle" dominant-baseline="central">Baseline</text>
<text transform="translate(558.10,330.3) scale(0.88,1)" class="xl" text-anchor="middle" dominant-baseline="central">w/error</text>
<text transform="translate(587.20,323.2) scale(0.88,1)" class="xl" text-anchor="middle" dominant-baseline="central">Baseline</text>
<text transform="translate(630.50,323.2) scale(0.88,1)" class="xl" text-anchor="middle" dominant-baseline="central">1-year</text>
<text transform="translate(661.10,323.2) scale(0.88,1)" class="xl" text-anchor="middle" dominant-baseline="central">1-year</text>
<text transform="translate(661.10,330.3) scale(0.88,1)" class="xl" text-anchor="middle" dominant-baseline="central">w/error</text>
<text transform="translate(515.8,252.0) rotate(-90) scale(0.88,1)" class="yl" fill="#cc2a2a" stroke="#cc2a2a" text-anchor="middle" dominant-baseline="central"><tspan font-style="italic">AP+</tspan> (IL-6, pg/ml)</text>
<g stroke="#e35a5a" stroke-width="0.38" fill="none" opacity="1">
<line x1="587.20" y1="247.00" x2="630.50" y2="199.10"/>
<line x1="587.20" y1="248.00" x2="630.50" y2="207.00"/>
<line x1="587.20" y1="250.00" x2="630.50" y2="209.80"/>
<line x1="587.20" y1="252.00" x2="630.50" y2="215.80"/>
<line x1="587.20" y1="255.00" x2="630.50" y2="222.50"/>
<line x1="587.20" y1="258.00" x2="630.50" y2="235.80"/>
<line x1="587.20" y1="270.00" x2="630.50" y2="241.40"/>
<line x1="587.20" y1="262.00" x2="630.50" y2="245.10"/>
<line x1="587.20" y1="308.50" x2="630.50" y2="296.00"/>
<line x1="587.20" y1="304.50" x2="630.50" y2="290.00"/>
<line x1="587.20" y1="300.80" x2="630.50" y2="300.00"/>
<line x1="587.20" y1="260.52" x2="630.50" y2="241.06"/>
<line x1="587.20" y1="250.79" x2="630.50" y2="242.27"/>
<line x1="587.20" y1="262.61" x2="630.50" y2="243.54"/>
<line x1="587.20" y1="249.67" x2="630.50" y2="244.06"/>
<line x1="587.20" y1="261.39" x2="630.50" y2="245.05"/>
<line x1="587.20" y1="255.07" x2="630.50" y2="246.68"/>
<line x1="587.20" y1="255.44" x2="630.50" y2="247.63"/>
<line x1="587.20" y1="265.56" x2="630.50" y2="249.53"/>
<line x1="587.20" y1="280.49" x2="630.50" y2="250.28"/>
<line x1="587.20" y1="259.55" x2="630.50" y2="251.37"/>
<line x1="587.20" y1="253.49" x2="630.50" y2="252.78"/>
<line x1="587.20" y1="257.45" x2="630.50" y2="254.15"/>
<line x1="587.20" y1="251.57" x2="630.50" y2="255.76"/>
<line x1="587.20" y1="276.26" x2="630.50" y2="256.70"/>
<line x1="587.20" y1="263.62" x2="630.50" y2="257.76"/>
<line x1="587.20" y1="296.08" x2="630.50" y2="259.42"/>
<line x1="587.20" y1="272.89" x2="630.50" y2="259.95"/>
<line x1="587.20" y1="275.22" x2="630.50" y2="261.38"/>
<line x1="587.20" y1="285.25" x2="630.50" y2="263.15"/>
<line x1="587.20" y1="278.22" x2="630.50" y2="264.46"/>
<line x1="587.20" y1="252.58" x2="630.50" y2="264.98"/>
<line x1="587.20" y1="283.94" x2="630.50" y2="266.18"/>
<line x1="587.20" y1="290.43" x2="630.50" y2="267.91"/>
<line x1="587.20" y1="266.46" x2="630.50" y2="269.31"/>
<line x1="587.20" y1="256.33" x2="630.50" y2="269.84"/>
<line x1="587.20" y1="288.17" x2="630.50" y2="271.55"/>
<line x1="587.20" y1="276.95" x2="630.50" y2="272.61"/>
<line x1="587.20" y1="269.81" x2="630.50" y2="273.64"/>
<line x1="587.20" y1="283.59" x2="630.50" y2="274.97"/>
<line x1="587.20" y1="286.44" x2="630.50" y2="276.34"/>
<line x1="587.20" y1="268.93" x2="630.50" y2="277.78"/>
<line x1="587.20" y1="292.54" x2="630.50" y2="278.63"/>
<line x1="587.20" y1="273.62" x2="630.50" y2="280.43"/>
<line x1="587.20" y1="264.87" x2="630.50" y2="281.96"/>
<line x1="587.20" y1="294.35" x2="630.50" y2="282.99"/>
<line x1="587.20" y1="271.14" x2="630.50" y2="283.54"/>
<line x1="587.20" y1="287.53" x2="630.50" y2="285.43"/>
<line x1="587.20" y1="282.42" x2="630.50" y2="286.65"/>
<line x1="587.20" y1="272.23" x2="630.50" y2="287.19"/>
<line x1="587.20" y1="281.44" x2="630.50" y2="288.85"/>
<line x1="587.20" y1="278.91" x2="630.50" y2="290.39"/>
<line x1="587.20" y1="258.47" x2="630.50" y2="291.96"/>
<line x1="587.20" y1="267.60" x2="630.50" y2="293.18"/>
<line x1="587.20" y1="288.96" x2="630.50" y2="294.02"/>
<line x1="587.20" y1="292.92" x2="630.50" y2="295.28"/>
<line x1="587.20" y1="290.97" x2="630.50" y2="296.93"/>
<line x1="587.20" y1="298.47" x2="630.50" y2="297.34"/>
<line x1="587.20" y1="299.37" x2="630.50" y2="298.91"/>
<line x1="587.20" y1="297.43" x2="630.50" y2="299.65"/>
<line x1="587.20" y1="295.39" x2="630.50" y2="301.69"/>
</g>
<g fill="#ff1414">
<rect x="586.15" y="245.95" width="2.1" height="2.1"/>
<rect x="586.15" y="246.95" width="2.1" height="2.1"/>
<rect x="586.15" y="248.95" width="2.1" height="2.1"/>
<rect x="586.15" y="250.95" width="2.1" height="2.1"/>
<rect x="586.15" y="253.95" width="2.1" height="2.1"/>
<rect x="586.15" y="256.95" width="2.1" height="2.1"/>
<rect x="586.15" y="268.95" width="2.1" height="2.1"/>
<rect x="586.15" y="260.95" width="2.1" height="2.1"/>
<rect x="586.15" y="307.45" width="2.1" height="2.1"/>
<rect x="586.15" y="303.45" width="2.1" height="2.1"/>
<rect x="586.15" y="299.75" width="2.1" height="2.1"/>
<rect x="586.15" y="259.47" width="2.1" height="2.1"/>
<rect x="586.15" y="249.74" width="2.1" height="2.1"/>
<rect x="586.15" y="261.56" width="2.1" height="2.1"/>
<rect x="586.15" y="248.62" width="2.1" height="2.1"/>
<rect x="586.15" y="260.34" width="2.1" height="2.1"/>
<rect x="586.15" y="254.02" width="2.1" height="2.1"/>
<rect x="586.15" y="254.39" width="2.1" height="2.1"/>
<rect x="586.15" y="264.51" width="2.1" height="2.1"/>
<rect x="586.15" y="279.44" width="2.1" height="2.1"/>
<rect x="586.15" y="258.50" width="2.1" height="2.1"/>
<rect x="586.15" y="252.44" width="2.1" height="2.1"/>
<rect x="586.15" y="256.40" width="2.1" height="2.1"/>
<rect x="586.15" y="250.52" width="2.1" height="2.1"/>
<rect x="586.15" y="275.21" width="2.1" height="2.1"/>
<rect x="586.15" y="262.57" width="2.1" height="2.1"/>
<rect x="586.15" y="295.03" width="2.1" height="2.1"/>
<rect x="586.15" y="271.84" width="2.1" height="2.1"/>
<rect x="586.15" y="274.17" width="2.1" height="2.1"/>
<rect x="586.15" y="284.20" width="2.1" height="2.1"/>
<rect x="586.15" y="277.17" width="2.1" height="2.1"/>
<rect x="586.15" y="251.53" width="2.1" height="2.1"/>
<rect x="586.15" y="282.89" width="2.1" height="2.1"/>
<rect x="586.15" y="289.38" width="2.1" height="2.1"/>
<rect x="586.15" y="265.41" width="2.1" height="2.1"/>
<rect x="586.15" y="255.28" width="2.1" height="2.1"/>
<rect x="586.15" y="287.12" width="2.1" height="2.1"/>
<rect x="586.15" y="275.90" width="2.1" height="2.1"/>
<rect x="586.15" y="268.76" width="2.1" height="2.1"/>
<rect x="586.15" y="282.54" width="2.1" height="2.1"/>
<rect x="586.15" y="285.39" width="2.1" height="2.1"/>
<rect x="586.15" y="267.88" width="2.1" height="2.1"/>
<rect x="586.15" y="291.49" width="2.1" height="2.1"/>
<rect x="586.15" y="272.57" width="2.1" height="2.1"/>
<rect x="586.15" y="263.82" width="2.1" height="2.1"/>
<rect x="586.15" y="293.30" width="2.1" height="2.1"/>
<rect x="586.15" y="270.09" width="2.1" height="2.1"/>
<rect x="586.15" y="286.48" width="2.1" height="2.1"/>
<rect x="586.15" y="281.37" width="2.1" height="2.1"/>
<rect x="586.15" y="271.18" width="2.1" height="2.1"/>
<rect x="586.15" y="280.39" width="2.1" height="2.1"/>
<rect x="586.15" y="277.86" width="2.1" height="2.1"/>
<rect x="586.15" y="257.42" width="2.1" height="2.1"/>
<rect x="586.15" y="266.55" width="2.1" height="2.1"/>
<rect x="586.15" y="287.91" width="2.1" height="2.1"/>
<rect x="586.15" y="291.87" width="2.1" height="2.1"/>
<rect x="586.15" y="289.92" width="2.1" height="2.1"/>
<rect x="586.15" y="297.42" width="2.1" height="2.1"/>
<rect x="586.15" y="298.32" width="2.1" height="2.1"/>
<rect x="586.15" y="296.38" width="2.1" height="2.1"/>
<rect x="586.15" y="294.34" width="2.1" height="2.1"/>
</g>
<g fill="#a01212">
<rect x="629.45" y="198.05" width="2.1" height="2.1"/>
<rect x="629.45" y="205.95" width="2.1" height="2.1"/>
<rect x="629.45" y="208.75" width="2.1" height="2.1"/>
<rect x="629.45" y="214.75" width="2.1" height="2.1"/>
<rect x="629.45" y="221.45" width="2.1" height="2.1"/>
<rect x="629.45" y="234.75" width="2.1" height="2.1"/>
<rect x="629.45" y="240.35" width="2.1" height="2.1"/>
<rect x="629.45" y="244.05" width="2.1" height="2.1"/>
<rect x="629.45" y="294.95" width="2.1" height="2.1"/>
<rect x="629.45" y="288.95" width="2.1" height="2.1"/>
<rect x="629.45" y="298.95" width="2.1" height="2.1"/>
<rect x="629.45" y="240.01" width="2.1" height="2.1"/>
<rect x="629.45" y="241.22" width="2.1" height="2.1"/>
<rect x="629.45" y="242.49" width="2.1" height="2.1"/>
<rect x="629.45" y="243.01" width="2.1" height="2.1"/>
<rect x="629.45" y="244.00" width="2.1" height="2.1"/>
<rect x="629.45" y="245.63" width="2.1" height="2.1"/>
<rect x="629.45" y="246.58" width="2.1" height="2.1"/>
<rect x="629.45" y="248.48" width="2.1" height="2.1"/>
<rect x="629.45" y="249.23" width="2.1" height="2.1"/>
<rect x="629.45" y="250.32" width="2.1" height="2.1"/>
<rect x="629.45" y="251.73" width="2.1" height="2.1"/>
<rect x="629.45" y="253.10" width="2.1" height="2.1"/>
<rect x="629.45" y="254.71" width="2.1" height="2.1"/>
<rect x="629.45" y="255.65" width="2.1" height="2.1"/>
<rect x="629.45" y="256.71" width="2.1" height="2.1"/>
<rect x="629.45" y="258.37" width="2.1" height="2.1"/>
<rect x="629.45" y="258.90" width="2.1" height="2.1"/>
<rect x="629.45" y="260.33" width="2.1" height="2.1"/>
<rect x="629.45" y="262.10" width="2.1" height="2.1"/>
<rect x="629.45" y="263.41" width="2.1" height="2.1"/>
<rect x="629.45" y="263.93" width="2.1" height="2.1"/>
<rect x="629.45" y="265.13" width="2.1" height="2.1"/>
<rect x="629.45" y="266.86" width="2.1" height="2.1"/>
<rect x="629.45" y="268.26" width="2.1" height="2.1"/>
<rect x="629.45" y="268.79" width="2.1" height="2.1"/>
<rect x="629.45" y="270.50" width="2.1" height="2.1"/>
<rect x="629.45" y="271.56" width="2.1" height="2.1"/>
<rect x="629.45" y="272.59" width="2.1" height="2.1"/>
<rect x="629.45" y="273.92" width="2.1" height="2.1"/>
<rect x="629.45" y="275.29" width="2.1" height="2.1"/>
<rect x="629.45" y="276.73" width="2.1" height="2.1"/>
<rect x="629.45" y="277.58" width="2.1" height="2.1"/>
<rect x="629.45" y="279.38" width="2.1" height="2.1"/>
<rect x="629.45" y="280.91" width="2.1" height="2.1"/>
<rect x="629.45" y="281.94" width="2.1" height="2.1"/>
<rect x="629.45" y="282.49" width="2.1" height="2.1"/>
<rect x="629.45" y="284.38" width="2.1" height="2.1"/>
<rect x="629.45" y="285.60" width="2.1" height="2.1"/>
<rect x="629.45" y="286.14" width="2.1" height="2.1"/>
<rect x="629.45" y="287.80" width="2.1" height="2.1"/>
<rect x="629.45" y="289.34" width="2.1" height="2.1"/>
<rect x="629.45" y="290.91" width="2.1" height="2.1"/>
<rect x="629.45" y="292.13" width="2.1" height="2.1"/>
<rect x="629.45" y="292.97" width="2.1" height="2.1"/>
<rect x="629.45" y="294.23" width="2.1" height="2.1"/>
<rect x="629.45" y="295.88" width="2.1" height="2.1"/>
<rect x="629.45" y="296.29" width="2.1" height="2.1"/>
<rect x="629.45" y="297.86" width="2.1" height="2.1"/>
<rect x="629.45" y="298.60" width="2.1" height="2.1"/>
<rect x="629.45" y="300.64" width="2.1" height="2.1"/>
</g>
<path d="M558.10,277V282.1M555.50,277H560.70M555.50,282.1H560.70" stroke="#e03535" stroke-width="0.8" fill="none"/>
<path d="M558.10,276.20L561.40,279.50L558.10,282.80L554.80,279.50Z" fill="#f21a1a"/>
<path d="M661.10,267.1V274.4M658.50,267.1H663.70M658.50,274.4H663.70" stroke="#e03535" stroke-width="0.8" fill="none"/>
<path d="M661.10,268.20L663.90,271.00L661.10,273.80L658.30,271.00Z" fill="#b01515"/>
<path d="M51.5,366.3V355.5H152.5V366.3" fill="none" stroke="#3e9a7c" stroke-width="1.05"/>
<text transform="translate(101.7,346.3) scale(0.87,1)" class="hd" fill="#4474ab" stroke="#4474ab" text-anchor="middle" dominant-baseline="central"><tspan font-style="italic">Z</tspan> = 1.867,   <tspan font-style="italic">p</tspan> = 0.062</text>
<path d="M28.5,365.30V485.5H175.90" fill="none" stroke="#2a2a2a" stroke-width="1.05"/>
<line x1="25.9" y1="485.5" x2="28.5" y2="485.5" stroke="#2a2a2a" stroke-width="1"/>
<text transform="translate(25.0,485.35) scale(0.88,1)" class="tk" text-anchor="end" dominant-baseline="central">0.0</text>
<line x1="25.9" y1="455.5" x2="28.5" y2="455.5" stroke="#2a2a2a" stroke-width="1"/>
<text transform="translate(25.0,455.35) scale(0.88,1)" class="tk" text-anchor="end" dominant-baseline="central">0.5</text>
<line x1="25.9" y1="425.5" x2="28.5" y2="425.5" stroke="#2a2a2a" stroke-width="1"/>
<text transform="translate(25.0,425.35) scale(0.88,1)" class="tk" text-anchor="end" dominant-baseline="central">1.0</text>
<line x1="25.9" y1="395.5" x2="28.5" y2="395.5" stroke="#2a2a2a" stroke-width="1"/>
<text transform="translate(25.0,395.35) scale(0.88,1)" class="tk" text-anchor="end" dominant-baseline="central">1.5</text>
<line x1="25.9" y1="365.5" x2="28.5" y2="365.5" stroke="#2a2a2a" stroke-width="1"/>
<text transform="translate(25.0,365.35) scale(0.88,1)" class="tk" text-anchor="end" dominant-baseline="central">2.0</text>
<line x1="50.5" y1="485.5" x2="50.5" y2="488.1" stroke="#2a2a2a" stroke-width="1"/>
<line x1="79.5" y1="485.5" x2="79.5" y2="488.1" stroke="#2a2a2a" stroke-width="1"/>
<line x1="122.5" y1="485.5" x2="122.5" y2="488.1" stroke="#2a2a2a" stroke-width="1"/>
<line x1="153.5" y1="485.5" x2="153.5" y2="488.1" stroke="#2a2a2a" stroke-width="1"/>
<text transform="translate(50.10,491.1) scale(0.88,1)" class="xl" text-anchor="middle" dominant-baseline="central">Baseline</text>
<text transform="translate(50.10,498.20000000000005) scale(0.88,1)" class="xl" text-anchor="middle" dominant-baseline="central">w/error</text>
<text transform="translate(79.20,491.1) scale(0.88,1)" class="xl" text-anchor="middle" dominant-baseline="central">Baseline</text>
<text transform="translate(122.50,491.1) scale(0.88,1)" class="xl" text-anchor="middle" dominant-baseline="central">1-year</text>
<text transform="translate(153.10,491.1) scale(0.88,1)" class="xl" text-anchor="middle" dominant-baseline="central">1-year</text>
<text transform="translate(153.10,498.20000000000005) scale(0.88,1)" class="xl" text-anchor="middle" dominant-baseline="central">w/error</text>
<text transform="translate(4.6,421.0) rotate(-90) scale(0.88,1)" class="yl" fill="#2f9a78" stroke="#2f9a78" text-anchor="middle" dominant-baseline="central"><tspan font-style="italic">AP-</tspan> (IL-1β, pg/ml)</text>
<g stroke="#62d062" stroke-width="0.5" fill="none" opacity="1">
<line x1="79.20" y1="390.90" x2="122.50" y2="440.30"/>
<line x1="79.20" y1="416.70" x2="122.50" y2="456.90"/>
<line x1="79.20" y1="484.30" x2="122.50" y2="386.00"/>
<line x1="79.20" y1="483.00" x2="122.50" y2="422.70"/>
<line x1="79.20" y1="447.50" x2="122.50" y2="434.60"/>
<line x1="79.20" y1="453.80" x2="122.50" y2="436.00"/>
<line x1="79.20" y1="456.50" x2="122.50" y2="438.00"/>
<line x1="79.20" y1="481.40" x2="122.50" y2="446.30"/>
<line x1="79.20" y1="449.50" x2="122.50" y2="451.00"/>
<line x1="79.20" y1="457.70" x2="122.50" y2="454.60"/>
<line x1="79.20" y1="477.00" x2="122.50" y2="455.80"/>
<line x1="79.20" y1="448.70" x2="122.50" y2="458.10"/>
<line x1="79.20" y1="458.90" x2="122.50" y2="462.00"/>
<line x1="79.20" y1="472.70" x2="122.50" y2="464.80"/>
<line x1="79.20" y1="460.10" x2="122.50" y2="466.00"/>
<line x1="79.20" y1="464.00" x2="122.50" y2="467.20"/>
<line x1="79.20" y1="469.20" x2="122.50" y2="468.40"/>
<line x1="79.20" y1="482.60" x2="122.50" y2="469.60"/>
<line x1="79.20" y1="483.70" x2="122.50" y2="472.70"/>
<line x1="79.20" y1="468.00" x2="122.50" y2="475.00"/>
<line x1="79.20" y1="462.90" x2="122.50" y2="477.00"/>
<line x1="79.20" y1="484.90" x2="122.50" y2="478.20"/>
<line x1="79.20" y1="443.50" x2="122.50" y2="480.20"/>
<line x1="79.20" y1="465.20" x2="122.50" y2="481.40"/>
</g>
<g fill="#0f5e0f">
<rect x="78.15" y="389.85" width="2.1" height="2.1"/>
<rect x="78.15" y="415.65" width="2.1" height="2.1"/>
<rect x="78.15" y="483.25" width="2.1" height="2.1"/>
<rect x="78.15" y="481.95" width="2.1" height="2.1"/>
<rect x="78.15" y="446.45" width="2.1" height="2.1"/>
<rect x="78.15" y="452.75" width="2.1" height="2.1"/>
<rect x="78.15" y="455.45" width="2.1" height="2.1"/>
<rect x="78.15" y="480.35" width="2.1" height="2.1"/>
<rect x="78.15" y="448.45" width="2.1" height="2.1"/>
<rect x="78.15" y="456.65" width="2.1" height="2.1"/>
<rect x="78.15" y="475.95" width="2.1" height="2.1"/>
<rect x="78.15" y="447.65" width="2.1" height="2.1"/>
<rect x="78.15" y="457.85" width="2.1" height="2.1"/>
<rect x="78.15" y="471.65" width="2.1" height="2.1"/>
<rect x="78.15" y="459.05" width="2.1" height="2.1"/>
<rect x="78.15" y="462.95" width="2.1" height="2.1"/>
<rect x="78.15" y="468.15" width="2.1" height="2.1"/>
<rect x="78.15" y="481.55" width="2.1" height="2.1"/>
<rect x="78.15" y="482.65" width="2.1" height="2.1"/>
<rect x="78.15" y="466.95" width="2.1" height="2.1"/>
<rect x="78.15" y="461.85" width="2.1" height="2.1"/>
<rect x="78.15" y="483.85" width="2.1" height="2.1"/>
<rect x="78.15" y="442.45" width="2.1" height="2.1"/>
<rect x="78.15" y="464.15" width="2.1" height="2.1"/>
</g>
<g fill="#0f5e0f">
<rect x="121.45" y="439.25" width="2.1" height="2.1"/>
<rect x="121.45" y="455.85" width="2.1" height="2.1"/>
<rect x="121.45" y="384.95" width="2.1" height="2.1"/>
<rect x="121.45" y="421.65" width="2.1" height="2.1"/>
<rect x="121.45" y="433.55" width="2.1" height="2.1"/>
<rect x="121.45" y="434.95" width="2.1" height="2.1"/>
<rect x="121.45" y="436.95" width="2.1" height="2.1"/>
<rect x="121.45" y="445.25" width="2.1" height="2.1"/>
<rect x="121.45" y="449.95" width="2.1" height="2.1"/>
<rect x="121.45" y="453.55" width="2.1" height="2.1"/>
<rect x="121.45" y="454.75" width="2.1" height="2.1"/>
<rect x="121.45" y="457.05" width="2.1" height="2.1"/>
<rect x="121.45" y="460.95" width="2.1" height="2.1"/>
<rect x="121.45" y="463.75" width="2.1" height="2.1"/>
<rect x="121.45" y="464.95" width="2.1" height="2.1"/>
<rect x="121.45" y="466.15" width="2.1" height="2.1"/>
<rect x="121.45" y="467.35" width="2.1" height="2.1"/>
<rect x="121.45" y="468.55" width="2.1" height="2.1"/>
<rect x="121.45" y="471.65" width="2.1" height="2.1"/>
<rect x="121.45" y="473.95" width="2.1" height="2.1"/>
<rect x="121.45" y="475.95" width="2.1" height="2.1"/>
<rect x="121.45" y="477.15" width="2.1" height="2.1"/>
<rect x="121.45" y="479.15" width="2.1" height="2.1"/>
<rect x="121.45" y="480.35" width="2.1" height="2.1"/>
</g>
<path d="M50.10,459.7V468.5M47.50,459.7H52.70M47.50,468.5H52.70" stroke="#4a8f4a" stroke-width="0.8" fill="none"/>
<path d="M50.10,461.25L52.95,464.10L50.10,466.95L47.25,464.10Z" fill="#fff" stroke="#2b7a2b" stroke-width="1.05"/>
<path d="M153.10,453.2V460.5M150.50,453.2H155.70M150.50,460.5H155.70" stroke="#4a8f4a" stroke-width="0.8" fill="none"/>
<path d="M153.10,454.00L155.90,456.80L153.10,459.60L150.30,456.80Z" fill="#1e6a1e"/>
<rect x="199.5" y="339.9" width="143.7" height="28.2" fill="#f9f2f5"/>
<path d="M221.5,365.8V354.5H322.5V365.8" fill="none" stroke="#ec3434" stroke-width="1.05"/>
<text transform="translate(272.7,345.0) scale(0.87,1)" class="hd" fill="#c42a2a" stroke="#c42a2a" text-anchor="middle" dominant-baseline="central"><tspan font-style="italic">Z</tspan> = 2.563,   <tspan font-style="italic">p</tspan> = 0.010</text>
<path d="M199.5,365.30V485.5H346.90" fill="none" stroke="#2a2a2a" stroke-width="1.05"/>
<line x1="196.9" y1="485.5" x2="199.5" y2="485.5" stroke="#2a2a2a" stroke-width="1"/>
<text transform="translate(196.0,485.35) scale(0.88,1)" class="tk" text-anchor="end" dominant-baseline="central">0.0</text>
<line x1="196.9" y1="455.5" x2="199.5" y2="455.5" stroke="#2a2a2a" stroke-width="1"/>
<text transform="translate(196.0,455.35) scale(0.88,1)" class="tk" text-anchor="end" dominant-baseline="central">0.5</text>
<line x1="196.9" y1="425.5" x2="199.5" y2="425.5" stroke="#2a2a2a" stroke-width="1"/>
<text transform="translate(196.0,425.35) scale(0.88,1)" class="tk" text-anchor="end" dominant-baseline="central">1.0</text>
<line x1="196.9" y1="395.5" x2="199.5" y2="395.5" stroke="#2a2a2a" stroke-width="1"/>
<text transform="translate(196.0,395.35) scale(0.88,1)" class="tk" text-anchor="end" dominant-baseline="central">1.5</text>
<line x1="196.9" y1="365.5" x2="199.5" y2="365.5" stroke="#2a2a2a" stroke-width="1"/>
<text transform="translate(196.0,365.35) scale(0.88,1)" class="tk" text-anchor="end" dominant-baseline="central">2.0</text>
<line x1="221.5" y1="485.5" x2="221.5" y2="488.1" stroke="#2a2a2a" stroke-width="1"/>
<line x1="250.5" y1="485.5" x2="250.5" y2="488.1" stroke="#2a2a2a" stroke-width="1"/>
<line x1="293.5" y1="485.5" x2="293.5" y2="488.1" stroke="#2a2a2a" stroke-width="1"/>
<line x1="324.5" y1="485.5" x2="324.5" y2="488.1" stroke="#2a2a2a" stroke-width="1"/>
<text transform="translate(221.10,491.1) scale(0.88,1)" class="xl" text-anchor="middle" dominant-baseline="central">Baseline</text>
<text transform="translate(221.10,498.20000000000005) scale(0.88,1)" class="xl" text-anchor="middle" dominant-baseline="central">w/error</text>
<text transform="translate(250.20,491.1) scale(0.88,1)" class="xl" text-anchor="middle" dominant-baseline="central">Baseline</text>
<text transform="translate(293.50,491.1) scale(0.88,1)" class="xl" text-anchor="middle" dominant-baseline="central">1-year</text>
<text transform="translate(324.10,491.1) scale(0.88,1)" class="xl" text-anchor="middle" dominant-baseline="central">1-year</text>
<text transform="translate(324.10,498.20000000000005) scale(0.88,1)" class="xl" text-anchor="middle" dominant-baseline="central">w/error</text>
<text transform="translate(176.2,421.5) rotate(-90) scale(0.88,1)" class="yl" fill="#cc2a2a" stroke="#cc2a2a" text-anchor="middle" dominant-baseline="central"><tspan font-style="italic">AP+</tspan> (IL-1β, pg/ml)</text>
<g stroke="#e35a5a" stroke-width="0.38" fill="none" opacity="1">
<line x1="250.20" y1="395.80" x2="293.50" y2="455.00"/>
<line x1="250.20" y1="401.20" x2="293.50" y2="457.00"/>
<line x1="250.20" y1="409.00" x2="293.50" y2="460.00"/>
<line x1="250.20" y1="416.50" x2="293.50" y2="462.00"/>
<line x1="250.20" y1="424.00" x2="293.50" y2="465.00"/>
<line x1="250.20" y1="435.88" x2="293.50" y2="440.87"/>
<line x1="250.20" y1="441.11" x2="293.50" y2="441.84"/>
<line x1="250.20" y1="438.34" x2="293.50" y2="442.09"/>
<line x1="250.20" y1="437.90" x2="293.50" y2="442.94"/>
<line x1="250.20" y1="445.50" x2="293.50" y2="444.24"/>
<line x1="250.20" y1="446.91" x2="293.50" y2="444.36"/>
<line x1="250.20" y1="464.50" x2="293.50" y2="445.81"/>
<line x1="250.20" y1="436.61" x2="293.50" y2="446.60"/>
<line x1="250.20" y1="479.76" x2="293.50" y2="446.84"/>
<line x1="250.20" y1="469.31" x2="293.50" y2="447.65"/>
<line x1="250.20" y1="452.68" x2="293.50" y2="449.00"/>
<line x1="250.20" y1="465.25" x2="293.50" y2="449.83"/>
<line x1="250.20" y1="451.58" x2="293.50" y2="450.57"/>
<line x1="250.20" y1="443.80" x2="293.50" y2="451.26"/>
<line x1="250.20" y1="442.45" x2="293.50" y2="452.09"/>
<line x1="250.20" y1="439.41" x2="293.50" y2="452.56"/>
<line x1="250.20" y1="457.91" x2="293.50" y2="453.15"/>
<line x1="250.20" y1="447.27" x2="293.50" y2="454.39"/>
<line x1="250.20" y1="448.38" x2="293.50" y2="455.38"/>
<line x1="250.20" y1="460.67" x2="293.50" y2="456.22"/>
<line x1="250.20" y1="458.97" x2="293.50" y2="456.71"/>
<line x1="250.20" y1="440.17" x2="293.50" y2="457.15"/>
<line x1="250.20" y1="473.95" x2="293.50" y2="458.07"/>
<line x1="250.20" y1="472.91" x2="293.50" y2="459.06"/>
<line x1="250.20" y1="454.75" x2="293.50" y2="459.71"/>
<line x1="250.20" y1="474.62" x2="293.50" y2="460.36"/>
<line x1="250.20" y1="442.64" x2="293.50" y2="461.28"/>
<line x1="250.20" y1="476.67" x2="293.50" y2="462.30"/>
<line x1="250.20" y1="456.05" x2="293.50" y2="462.83"/>
<line x1="250.20" y1="450.25" x2="293.50" y2="463.62"/>
<line x1="250.20" y1="468.96" x2="293.50" y2="464.46"/>
<line x1="250.20" y1="459.63" x2="293.50" y2="465.16"/>
<line x1="250.20" y1="467.95" x2="293.50" y2="466.50"/>
<line x1="250.20" y1="471.30" x2="293.50" y2="467.36"/>
<line x1="250.20" y1="478.49" x2="293.50" y2="467.69"/>
<line x1="250.20" y1="466.88" x2="293.50" y2="468.80"/>
<line x1="250.20" y1="482.38" x2="293.50" y2="469.77"/>
<line x1="250.20" y1="481.04" x2="293.50" y2="470.12"/>
<line x1="250.20" y1="466.19" x2="293.50" y2="470.98"/>
<line x1="250.20" y1="461.86" x2="293.50" y2="472.17"/>
<line x1="250.20" y1="450.92" x2="293.50" y2="472.89"/>
<line x1="250.20" y1="457.32" x2="293.50" y2="473.59"/>
<line x1="250.20" y1="455.45" x2="293.50" y2="474.51"/>
<line x1="250.20" y1="453.55" x2="293.50" y2="475.15"/>
<line x1="250.20" y1="463.61" x2="293.50" y2="475.77"/>
<line x1="250.20" y1="472.01" x2="293.50" y2="476.83"/>
<line x1="250.20" y1="480.43" x2="293.50" y2="477.70"/>
<line x1="250.20" y1="462.53" x2="293.50" y2="477.98"/>
<line x1="250.20" y1="444.52" x2="293.50" y2="478.97"/>
<line x1="250.20" y1="484.23" x2="293.50" y2="479.75"/>
<line x1="250.20" y1="475.77" x2="293.50" y2="480.98"/>
<line x1="250.20" y1="470.87" x2="293.50" y2="481.35"/>
<line x1="250.20" y1="449.12" x2="293.50" y2="482.43"/>
<line x1="250.20" y1="477.76" x2="293.50" y2="483.05"/>
<line x1="250.20" y1="483.13" x2="293.50" y2="483.81"/>
</g>
<g fill="#ff1414">
<rect x="249.15" y="394.75" width="2.1" height="2.1"/>
<rect x="249.15" y="400.15" width="2.1" height="2.1"/>
<rect x="249.15" y="407.95" width="2.1" height="2.1"/>
<rect x="249.15" y="415.45" width="2.1" height="2.1"/>
<rect x="249.15" y="422.95" width="2.1" height="2.1"/>
<rect x="249.15" y="434.83" width="2.1" height="2.1"/>
<rect x="249.15" y="440.06" width="2.1" height="2.1"/>
<rect x="249.15" y="437.29" width="2.1" height="2.1"/>
<rect x="249.15" y="436.85" width="2.1" height="2.1"/>
<rect x="249.15" y="444.45" width="2.1" height="2.1"/>
<rect x="249.15" y="445.86" width="2.1" height="2.1"/>
<rect x="249.15" y="463.45" width="2.1" height="2.1"/>
<rect x="249.15" y="435.56" width="2.1" height="2.1"/>
<rect x="249.15" y="478.71" width="2.1" height="2.1"/>
<rect x="249.15" y="468.26" width="2.1" height="2.1"/>
<rect x="249.15" y="451.63" width="2.1" height="2.1"/>
<rect x="249.15" y="464.20" width="2.1" height="2.1"/>
<rect x="249.15" y="450.53" width="2.1" height="2.1"/>
<rect x="249.15" y="442.75" width="2.1" height="2.1"/>
<rect x="249.15" y="441.40" width="2.1" height="2.1"/>
<rect x="249.15" y="438.36" width="2.1" height="2.1"/>
<rect x="249.15" y="456.86" width="2.1" height="2.1"/>
<rect x="249.15" y="446.22" width="2.1" height="2.1"/>
<rect x="249.15" y="447.33" width="2.1" height="2.1"/>
<rect x="249.15" y="459.62" width="2.1" height="2.1"/>
<rect x="249.15" y="457.92" width="2.1" height="2.1"/>
<rect x="249.15" y="439.12" width="2.1" height="2.1"/>
<rect x="249.15" y="472.90" width="2.1" height="2.1"/>
<rect x="249.15" y="471.86" width="2.1" height="2.1"/>
<rect x="249.15" y="453.70" width="2.1" height="2.1"/>
<rect x="249.15" y="473.57" width="2.1" height="2.1"/>
<rect x="249.15" y="441.59" width="2.1" height="2.1"/>
<rect x="249.15" y="475.62" width="2.1" height="2.1"/>
<rect x="249.15" y="455.00" width="2.1" height="2.1"/>
<rect x="249.15" y="449.20" width="2.1" height="2.1"/>
<rect x="249.15" y="467.91" width="2.1" height="2.1"/>
<rect x="249.15" y="458.58" width="2.1" height="2.1"/>
<rect x="249.15" y="466.90" width="2.1" height="2.1"/>
<rect x="249.15" y="470.25" width="2.1" height="2.1"/>
<rect x="249.15" y="477.44" width="2.1" height="2.1"/>
<rect x="249.15" y="465.83" width="2.1" height="2.1"/>
<rect x="249.15" y="481.33" width="2.1" height="2.1"/>
<rect x="249.15" y="479.99" width="2.1" height="2.1"/>
<rect x="249.15" y="465.14" width="2.1" height="2.1"/>
<rect x="249.15" y="460.81" width="2.1" height="2.1"/>
<rect x="249.15" y="449.87" width="2.1" height="2.1"/>
<rect x="249.15" y="456.27" width="2.1" height="2.1"/>
<rect x="249.15" y="454.40" width="2.1" height="2.1"/>
<rect x="249.15" y="452.50" width="2.1" height="2.1"/>
<rect x="249.15" y="462.56" width="2.1" height="2.1"/>
<rect x="249.15" y="470.96" width="2.1" height="2.1"/>
<rect x="249.15" y="479.38" width="2.1" height="2.1"/>
<rect x="249.15" y="461.48" width="2.1" height="2.1"/>
<rect x="249.15" y="443.47" width="2.1" height="2.1"/>
<rect x="249.15" y="483.18" width="2.1" height="2.1"/>
<rect x="249.15" y="474.72" width="2.1" height="2.1"/>
<rect x="249.15" y="469.82" width="2.1" height="2.1"/>
<rect x="249.15" y="448.07" width="2.1" height="2.1"/>
<rect x="249.15" y="476.71" width="2.1" height="2.1"/>
<rect x="249.15" y="482.08" width="2.1" height="2.1"/>
</g>
<g fill="#a01212">
<rect x="292.45" y="453.95" width="2.1" height="2.1"/>
<rect x="292.45" y="455.95" width="2.1" height="2.1"/>
<rect x="292.45" y="458.95" width="2.1" height="2.1"/>
<rect x="292.45" y="460.95" width="2.1" height="2.1"/>
<rect x="292.45" y="463.95" width="2.1" height="2.1"/>
<rect x="292.45" y="439.82" width="2.1" height="2.1"/>
<rect x="292.45" y="440.79" width="2.1" height="2.1"/>
<rect x="292.45" y="441.04" width="2.1" height="2.1"/>
<rect x="292.45" y="441.89" width="2.1" height="2.1"/>
<rect x="292.45" y="443.19" width="2.1" height="2.1"/>
<rect x="292.45" y="443.31" width="2.1" height="2.1"/>
<rect x="292.45" y="444.76" width="2.1" height="2.1"/>
<rect x="292.45" y="445.55" width="2.1" height="2.1"/>
<rect x="292.45" y="445.79" width="2.1" height="2.1"/>
<rect x="292.45" y="446.60" width="2.1" height="2.1"/>
<rect x="292.45" y="447.95" width="2.1" height="2.1"/>
<rect x="292.45" y="448.78" width="2.1" height="2.1"/>
<rect x="292.45" y="449.52" width="2.1" height="2.1"/>
<rect x="292.45" y="450.21" width="2.1" height="2.1"/>
<rect x="292.45" y="451.04" width="2.1" height="2.1"/>
<rect x="292.45" y="451.51" width="2.1" height="2.1"/>
<rect x="292.45" y="452.10" width="2.1" height="2.1"/>
<rect x="292.45" y="453.34" width="2.1" height="2.1"/>
<rect x="292.45" y="454.33" width="2.1" height="2.1"/>
<rect x="292.45" y="455.17" width="2.1" height="2.1"/>
<rect x="292.45" y="455.66" width="2.1" height="2.1"/>
<rect x="292.45" y="456.10" width="2.1" height="2.1"/>
<rect x="292.45" y="457.02" width="2.1" height="2.1"/>
<rect x="292.45" y="458.01" width="2.1" height="2.1"/>
<rect x="292.45" y="458.66" width="2.1" height="2.1"/>
<rect x="292.45" y="459.31" width="2.1" height="2.1"/>
<rect x="292.45" y="460.23" width="2.1" height="2.1"/>
<rect x="292.45" y="461.25" width="2.1" height="2.1"/>
<rect x="292.45" y="461.78" width="2.1" height="2.1"/>
<rect x="292.45" y="462.57" width="2.1" height="2.1"/>
<rect x="292.45" y="463.41" width="2.1" height="2.1"/>
<rect x="292.45" y="464.11" width="2.1" height="2.1"/>
<rect x="292.45" y="465.45" width="2.1" height="2.1"/>
<rect x="292.45" y="466.31" width="2.1" height="2.1"/>
<rect x="292.45" y="466.64" width="2.1" height="2.1"/>
<rect x="292.45" y="467.75" width="2.1" height="2.1"/>
<rect x="292.45" y="468.72" width="2.1" height="2.1"/>
<rect x="292.45" y="469.07" width="2.1" height="2.1"/>
<rect x="292.45" y="469.93" width="2.1" height="2.1"/>
<rect x="292.45" y="471.12" width="2.1" height="2.1"/>
<rect x="292.45" y="471.84" width="2.1" height="2.1"/>
<rect x="292.45" y="472.54" width="2.1" height="2.1"/>
<rect x="292.45" y="473.46" width="2.1" height="2.1"/>
<rect x="292.45" y="474.10" width="2.1" height="2.1"/>
<rect x="292.45" y="474.72" width="2.1" height="2.1"/>
<rect x="292.45" y="475.78" width="2.1" height="2.1"/>
<rect x="292.45" y="476.65" width="2.1" height="2.1"/>
<rect x="292.45" y="476.93" width="2.1" height="2.1"/>
<rect x="292.45" y="477.92" width="2.1" height="2.1"/>
<rect x="292.45" y="478.70" width="2.1" height="2.1"/>
<rect x="292.45" y="479.93" width="2.1" height="2.1"/>
<rect x="292.45" y="480.30" width="2.1" height="2.1"/>
<rect x="292.45" y="481.38" width="2.1" height="2.1"/>
<rect x="292.45" y="482.00" width="2.1" height="2.1"/>
<rect x="292.45" y="482.76" width="2.1" height="2.1"/>
</g>
<path d="M221.10,456.6V461.8M218.50,456.6H223.70M218.50,461.8H223.70" stroke="#e03535" stroke-width="0.8" fill="none"/>
<path d="M221.10,455.90L224.40,459.20L221.10,462.50L217.80,459.20Z" fill="#f21a1a"/>
<path d="M324.10,464.5V468M321.50,464.5H326.70M321.50,468H326.70" stroke="#e03535" stroke-width="0.8" fill="none"/>
<path d="M324.10,463.40L326.90,466.20L324.10,469.00L321.30,466.20Z" fill="#b01515"/>
<path d="M386.5,366.3V354.5H487.5V366.3" fill="none" stroke="#3e9a7c" stroke-width="1.05"/>
<text transform="translate(437.1,345.2) scale(0.87,1)" class="hd" fill="#4474ab" stroke="#4474ab" text-anchor="middle" dominant-baseline="central"><tspan font-style="italic">Z</tspan> = 0.061,   <tspan font-style="italic">p</tspan> = 0.951</text>
<path d="M366.0,365.30V485.5H513.40" fill="none" stroke="#2a2a2a" stroke-width="1.05"/>
<line x1="363.4" y1="485.5" x2="366.0" y2="485.5" stroke="#2a2a2a" stroke-width="1"/>
<text transform="translate(362.5,485.35) scale(0.88,1)" class="tk" text-anchor="end" dominant-baseline="central">0.0</text>
<line x1="363.4" y1="455.5" x2="366.0" y2="455.5" stroke="#2a2a2a" stroke-width="1"/>
<text transform="translate(362.5,455.35) scale(0.88,1)" class="tk" text-anchor="end" dominant-baseline="central">0.5</text>
<line x1="363.4" y1="425.5" x2="366.0" y2="425.5" stroke="#2a2a2a" stroke-width="1"/>
<text transform="translate(362.5,425.35) scale(0.88,1)" class="tk" text-anchor="end" dominant-baseline="central">1.0</text>
<line x1="363.4" y1="395.5" x2="366.0" y2="395.5" stroke="#2a2a2a" stroke-width="1"/>
<text transform="translate(362.5,395.35) scale(0.88,1)" class="tk" text-anchor="end" dominant-baseline="central">1.5</text>
<line x1="363.4" y1="365.5" x2="366.0" y2="365.5" stroke="#2a2a2a" stroke-width="1"/>
<text transform="translate(362.5,365.35) scale(0.88,1)" class="tk" text-anchor="end" dominant-baseline="central">2.0</text>
<line x1="387.5" y1="485.5" x2="387.5" y2="488.1" stroke="#2a2a2a" stroke-width="1"/>
<line x1="416.5" y1="485.5" x2="416.5" y2="488.1" stroke="#2a2a2a" stroke-width="1"/>
<line x1="460.5" y1="485.5" x2="460.5" y2="488.1" stroke="#2a2a2a" stroke-width="1"/>
<line x1="490.5" y1="485.5" x2="490.5" y2="488.1" stroke="#2a2a2a" stroke-width="1"/>
<text transform="translate(387.60,491.1) scale(0.88,1)" class="xl" text-anchor="middle" dominant-baseline="central">Baseline</text>
<text transform="translate(387.60,498.20000000000005) scale(0.88,1)" class="xl" text-anchor="middle" dominant-baseline="central">w/error</text>
<text transform="translate(416.70,491.1) scale(0.88,1)" class="xl" text-anchor="middle" dominant-baseline="central">Baseline</text>
<text transform="translate(460.00,491.1) scale(0.88,1)" class="xl" text-anchor="middle" dominant-baseline="central">1-year</text>
<text transform="translate(490.60,491.1) scale(0.88,1)" class="xl" text-anchor="middle" dominant-baseline="central">1-year</text>
<text transform="translate(490.60,498.20000000000005) scale(0.88,1)" class="xl" text-anchor="middle" dominant-baseline="central">w/error</text>
<text transform="translate(345.9,421.9) rotate(-90) scale(0.88,1)" class="yl" fill="#2f9a78" stroke="#2f9a78" text-anchor="middle" dominant-baseline="central"><tspan font-style="italic">AP-</tspan> (IL-10, pg/ml)</text>
<g stroke="#62d062" stroke-width="0.5" fill="none" opacity="1">
<line x1="416.70" y1="378.70" x2="460.00" y2="472.30"/>
<line x1="416.70" y1="384.10" x2="460.00" y2="401.60"/>
<line x1="416.70" y1="467.20" x2="460.00" y2="370.80"/>
<line x1="416.70" y1="408.00" x2="460.00" y2="449.50"/>
<line x1="416.70" y1="415.70" x2="460.00" y2="457.00"/>
<line x1="416.70" y1="421.10" x2="460.00" y2="427.60"/>
<line x1="416.70" y1="427.90" x2="460.00" y2="444.00"/>
<line x1="416.70" y1="435.00" x2="460.00" y2="447.90"/>
<line x1="416.70" y1="479.40" x2="460.00" y2="420.90"/>
<line x1="416.70" y1="477.80" x2="460.00" y2="429.30"/>
<line x1="416.70" y1="456.50" x2="460.00" y2="442.80"/>
<line x1="416.70" y1="455.40" x2="460.00" y2="450.20"/>
<line x1="416.70" y1="453.80" x2="460.00" y2="455.80"/>
<line x1="416.70" y1="468.40" x2="460.00" y2="459.30"/>
<line x1="416.70" y1="472.30" x2="460.00" y2="460.90"/>
<line x1="416.70" y1="469.60" x2="460.00" y2="468.80"/>
<line x1="416.70" y1="484.50" x2="460.00" y2="472.70"/>
<line x1="416.70" y1="484.50" x2="460.00" y2="473.90"/>
<line x1="416.70" y1="463.60" x2="460.00" y2="475.10"/>
<line x1="416.70" y1="484.00" x2="460.00" y2="481.40"/>
<line x1="416.70" y1="484.50" x2="460.00" y2="483.00"/>
<line x1="416.70" y1="475.90" x2="460.00" y2="484.10"/>
</g>
<g fill="#0f5e0f">
<rect x="415.65" y="377.65" width="2.1" height="2.1"/>
<rect x="415.65" y="383.05" width="2.1" height="2.1"/>
<rect x="415.65" y="466.15" width="2.1" height="2.1"/>
<rect x="415.65" y="406.95" width="2.1" height="2.1"/>
<rect x="415.65" y="414.65" width="2.1" height="2.1"/>
<rect x="415.65" y="420.05" width="2.1" height="2.1"/>
<rect x="415.65" y="426.85" width="2.1" height="2.1"/>
<rect x="415.65" y="433.95" width="2.1" height="2.1"/>
<rect x="415.65" y="478.35" width="2.1" height="2.1"/>
<rect x="415.65" y="476.75" width="2.1" height="2.1"/>
<rect x="415.65" y="455.45" width="2.1" height="2.1"/>
<rect x="415.65" y="454.35" width="2.1" height="2.1"/>
<rect x="415.65" y="452.75" width="2.1" height="2.1"/>
<rect x="415.65" y="467.35" width="2.1" height="2.1"/>
<rect x="415.65" y="471.25" width="2.1" height="2.1"/>
<rect x="415.65" y="468.55" width="2.1" height="2.1"/>
<rect x="415.65" y="483.45" width="2.1" height="2.1"/>
<rect x="415.65" y="483.45" width="2.1" height="2.1"/>
<rect x="415.65" y="462.55" width="2.1" height="2.1"/>
<rect x="415.65" y="482.95" width="2.1" height="2.1"/>
<rect x="415.65" y="483.45" width="2.1" height="2.1"/>
<rect x="415.65" y="474.85" width="2.1" height="2.1"/>
</g>
<g fill="#0f5e0f">
<rect x="458.95" y="471.25" width="2.1" height="2.1"/>
<rect x="458.95" y="400.55" width="2.1" height="2.1"/>
<rect x="458.95" y="369.75" width="2.1" height="2.1"/>
<rect x="458.95" y="448.45" width="2.1" height="2.1"/>
<rect x="458.95" y="455.95" width="2.1" height="2.1"/>
<rect x="458.95" y="426.55" width="2.1" height="2.1"/>
<rect x="458.95" y="442.95" width="2.1" height="2.1"/>
<rect x="458.95" y="446.85" width="2.1" height="2.1"/>
<rect x="458.95" y="419.85" width="2.1" height="2.1"/>
<rect x="458.95" y="428.25" width="2.1" height="2.1"/>
<rect x="458.95" y="441.75" width="2.1" height="2.1"/>
<rect x="458.95" y="449.15" width="2.1" height="2.1"/>
<rect x="458.95" y="454.75" width="2.1" height="2.1"/>
<rect x="458.95" y="458.25" width="2.1" height="2.1"/>
<rect x="458.95" y="459.85" width="2.1" height="2.1"/>
<rect x="458.95" y="467.75" width="2.1" height="2.1"/>
<rect x="458.95" y="471.65" width="2.1" height="2.1"/>
<rect x="458.95" y="472.85" width="2.1" height="2.1"/>
<rect x="458.95" y="474.05" width="2.1" height="2.1"/>
<rect x="458.95" y="480.35" width="2.1" height="2.1"/>
<rect x="458.95" y="481.95" width="2.1" height="2.1"/>
<rect x="458.95" y="483.05" width="2.1" height="2.1"/>
</g>
<path d="M387.60,452.4V464.9M385.00,452.4H390.20M385.00,464.9H390.20" stroke="#4a8f4a" stroke-width="0.8" fill="none"/>
<path d="M387.60,455.85L390.45,458.70L387.60,461.55L384.75,458.70Z" fill="#fff" stroke="#2b7a2b" stroke-width="1.05"/>
<path d="M490.60,453.5V464.4M488.00,453.5H493.20M488.00,464.4H493.20" stroke="#4a8f4a" stroke-width="0.8" fill="none"/>
<path d="M490.60,455.90L493.40,458.70L490.60,461.50L487.80,458.70Z" fill="#1e6a1e"/>
<path d="M556.5,365.5V353.5H657.5V365.5" fill="none" stroke="#ec3434" stroke-width="1.05"/>
<text transform="translate(606.6,343.7) scale(0.87,1)" class="hd" fill="#c42a2a" stroke="#c42a2a" text-anchor="middle" dominant-baseline="central"><tspan font-style="italic">Z</tspan> = 0.394,   <tspan font-style="italic">p</tspan> = 0.694</text>
<path d="M536.5,365.30V485.5H683.90" fill="none" stroke="#2a2a2a" stroke-width="1.05"/>
<line x1="533.9" y1="485.5" x2="536.5" y2="485.5" stroke="#2a2a2a" stroke-width="1"/>
<text transform="translate(533.0,485.35) scale(0.88,1)" class="tk" text-anchor="end" dominant-baseline="central">0.0</text>
<line x1="533.9" y1="455.5" x2="536.5" y2="455.5" stroke="#2a2a2a" stroke-width="1"/>
<text transform="translate(533.0,455.35) scale(0.88,1)" class="tk" text-anchor="end" dominant-baseline="central">0.5</text>
<line x1="533.9" y1="425.5" x2="536.5" y2="425.5" stroke="#2a2a2a" stroke-width="1"/>
<text transform="translate(533.0,425.35) scale(0.88,1)" class="tk" text-anchor="end" dominant-baseline="central">1.0</text>
<line x1="533.9" y1="395.5" x2="536.5" y2="395.5" stroke="#2a2a2a" stroke-width="1"/>
<text transform="translate(533.0,395.35) scale(0.88,1)" class="tk" text-anchor="end" dominant-baseline="central">1.5</text>
<line x1="533.9" y1="365.5" x2="536.5" y2="365.5" stroke="#2a2a2a" stroke-width="1"/>
<text transform="translate(533.0,365.35) scale(0.88,1)" class="tk" text-anchor="end" dominant-baseline="central">2.0</text>
<line x1="558.5" y1="485.5" x2="558.5" y2="488.1" stroke="#2a2a2a" stroke-width="1"/>
<line x1="587.5" y1="485.5" x2="587.5" y2="488.1" stroke="#2a2a2a" stroke-width="1"/>
<line x1="630.5" y1="485.5" x2="630.5" y2="488.1" stroke="#2a2a2a" stroke-width="1"/>
<line x1="661.5" y1="485.5" x2="661.5" y2="488.1" stroke="#2a2a2a" stroke-width="1"/>
<text transform="translate(558.10,491.1) scale(0.88,1)" class="xl" text-anchor="middle" dominant-baseline="central">Baseline</text>
<text transform="translate(558.10,498.20000000000005) scale(0.88,1)" class="xl" text-anchor="middle" dominant-baseline="central">w/error</text>
<text transform="translate(587.20,491.1) scale(0.88,1)" class="xl" text-anchor="middle" dominant-baseline="central">Baseline</text>
<text transform="translate(630.50,491.1) scale(0.88,1)" class="xl" text-anchor="middle" dominant-baseline="central">1-year</text>
<text transform="translate(661.10,491.1) scale(0.88,1)" class="xl" text-anchor="middle" dominant-baseline="central">1-year</text>
<text transform="translate(661.10,498.20000000000005) scale(0.88,1)" class="xl" text-anchor="middle" dominant-baseline="central">w/error</text>
<text transform="translate(515.8,421.8) rotate(-90) scale(0.88,1)" class="yl" fill="#cc2a2a" stroke="#cc2a2a" text-anchor="middle" dominant-baseline="central"><tspan font-style="italic">AP+</tspan> (IL-10, pg/ml)</text>
<g stroke="#e35a5a" stroke-width="0.38" fill="none" opacity="1">
<line x1="587.20" y1="405.50" x2="630.50" y2="455.00"/>
<line x1="587.20" y1="420.70" x2="630.50" y2="434.00"/>
<line x1="587.20" y1="484.00" x2="630.50" y2="391.80"/>
<line x1="587.20" y1="432.00" x2="630.50" y2="404.80"/>
<line x1="587.20" y1="431.00" x2="630.50" y2="429.90"/>
<line x1="587.20" y1="450.76" x2="630.50" y2="435.63"/>
<line x1="587.20" y1="431.87" x2="630.50" y2="436.35"/>
<line x1="587.20" y1="455.77" x2="630.50" y2="437.79"/>
<line x1="587.20" y1="457.25" x2="630.50" y2="438.60"/>
<line x1="587.20" y1="445.66" x2="630.50" y2="439.38"/>
<line x1="587.20" y1="474.69" x2="630.50" y2="440.79"/>
<line x1="587.20" y1="442.60" x2="630.50" y2="441.30"/>
<line x1="587.20" y1="452.12" x2="630.50" y2="442.70"/>
<line x1="587.20" y1="459.35" x2="630.50" y2="443.84"/>
<line x1="587.20" y1="438.05" x2="630.50" y2="444.35"/>
<line x1="587.20" y1="447.98" x2="630.50" y2="445.99"/>
<line x1="587.20" y1="458.49" x2="630.50" y2="446.50"/>
<line x1="587.20" y1="436.00" x2="630.50" y2="448.06"/>
<line x1="587.20" y1="473.76" x2="630.50" y2="448.80"/>
<line x1="587.20" y1="436.80" x2="630.50" y2="449.55"/>
<line x1="587.20" y1="444.44" x2="630.50" y2="451.48"/>
<line x1="587.20" y1="440.89" x2="630.50" y2="451.64"/>
<line x1="587.20" y1="468.45" x2="630.50" y2="452.76"/>
<line x1="587.20" y1="443.64" x2="630.50" y2="454.12"/>
<line x1="587.20" y1="431.35" x2="630.50" y2="454.91"/>
<line x1="587.20" y1="433.53" x2="630.50" y2="456.21"/>
<line x1="587.20" y1="481.99" x2="630.50" y2="457.19"/>
<line x1="587.20" y1="463.81" x2="630.50" y2="458.32"/>
<line x1="587.20" y1="454.57" x2="630.50" y2="459.32"/>
<line x1="587.20" y1="478.81" x2="630.50" y2="460.13"/>
<line x1="587.20" y1="451.76" x2="630.50" y2="461.08"/>
<line x1="587.20" y1="438.91" x2="630.50" y2="462.56"/>
<line x1="587.20" y1="465.95" x2="630.50" y2="463.35"/>
<line x1="587.20" y1="462.19" x2="630.50" y2="464.47"/>
<line x1="587.20" y1="440.19" x2="630.50" y2="465.87"/>
<line x1="587.20" y1="453.23" x2="630.50" y2="466.06"/>
<line x1="587.20" y1="461.61" x2="630.50" y2="467.34"/>
<line x1="587.20" y1="476.53" x2="630.50" y2="468.64"/>
<line x1="587.20" y1="479.25" x2="630.50" y2="469.20"/>
<line x1="587.20" y1="471.74" x2="630.50" y2="470.89"/>
<line x1="587.20" y1="449.63" x2="630.50" y2="471.59"/>
<line x1="587.20" y1="477.52" x2="630.50" y2="472.55"/>
<line x1="587.20" y1="470.10" x2="630.50" y2="473.47"/>
<line x1="587.20" y1="460.55" x2="630.50" y2="475.22"/>
<line x1="587.20" y1="484.46" x2="630.50" y2="475.39"/>
<line x1="587.20" y1="466.67" x2="630.50" y2="477.15"/>
<line x1="587.20" y1="447.15" x2="630.50" y2="478.07"/>
<line x1="587.20" y1="482.92" x2="630.50" y2="479.29"/>
<line x1="587.20" y1="434.88" x2="630.50" y2="480.14"/>
<line x1="587.20" y1="469.83" x2="630.50" y2="480.84"/>
<line x1="587.20" y1="464.62" x2="630.50" y2="482.06"/>
<line x1="587.20" y1="472.31" x2="630.50" y2="483.44"/>
<line x1="587.20" y1="480.88" x2="630.50" y2="483.66"/>
</g>
<g fill="#ff1414">
<rect x="586.15" y="404.45" width="2.1" height="2.1"/>
<rect x="586.15" y="419.65" width="2.1" height="2.1"/>
<rect x="586.15" y="482.95" width="2.1" height="2.1"/>
<rect x="586.15" y="430.95" width="2.1" height="2.1"/>
<rect x="586.15" y="429.95" width="2.1" height="2.1"/>
<rect x="586.15" y="449.71" width="2.1" height="2.1"/>
<rect x="586.15" y="430.82" width="2.1" height="2.1"/>
<rect x="586.15" y="454.72" width="2.1" height="2.1"/>
<rect x="586.15" y="456.20" width="2.1" height="2.1"/>
<rect x="586.15" y="444.61" width="2.1" height="2.1"/>
<rect x="586.15" y="473.64" width="2.1" height="2.1"/>
<rect x="586.15" y="441.55" width="2.1" height="2.1"/>
<rect x="586.15" y="451.07" width="2.1" height="2.1"/>
<rect x="586.15" y="458.30" width="2.1" height="2.1"/>
<rect x="586.15" y="437.00" width="2.1" height="2.1"/>
<rect x="586.15" y="446.93" width="2.1" height="2.1"/>
<rect x="586.15" y="457.44" width="2.1" height="2.1"/>
<rect x="586.15" y="434.95" width="2.1" height="2.1"/>
<rect x="586.15" y="472.71" width="2.1" height="2.1"/>
<rect x="586.15" y="435.75" width="2.1" height="2.1"/>
<rect x="586.15" y="443.39" width="2.1" height="2.1"/>
<rect x="586.15" y="439.84" width="2.1" height="2.1"/>
<rect x="586.15" y="467.40" width="2.1" height="2.1"/>
<rect x="586.15" y="442.59" width="2.1" height="2.1"/>
<rect x="586.15" y="430.30" width="2.1" height="2.1"/>
<rect x="586.15" y="432.48" width="2.1" height="2.1"/>
<rect x="586.15" y="480.94" width="2.1" height="2.1"/>
<rect x="586.15" y="462.76" width="2.1" height="2.1"/>
<rect x="586.15" y="453.52" width="2.1" height="2.1"/>
<rect x="586.15" y="477.76" width="2.1" height="2.1"/>
<rect x="586.15" y="450.71" width="2.1" height="2.1"/>
<rect x="586.15" y="437.86" width="2.1" height="2.1"/>
<rect x="586.15" y="464.90" width="2.1" height="2.1"/>
<rect x="586.15" y="461.14" width="2.1" height="2.1"/>
<rect x="586.15" y="439.14" width="2.1" height="2.1"/>
<rect x="586.15" y="452.18" width="2.1" height="2.1"/>
<rect x="586.15" y="460.56" width="2.1" height="2.1"/>
<rect x="586.15" y="475.48" width="2.1" height="2.1"/>
<rect x="586.15" y="478.20" width="2.1" height="2.1"/>
<rect x="586.15" y="470.69" width="2.1" height="2.1"/>
<rect x="586.15" y="448.58" width="2.1" height="2.1"/>
<rect x="586.15" y="476.47" width="2.1" height="2.1"/>
<rect x="586.15" y="469.05" width="2.1" height="2.1"/>
<rect x="586.15" y="459.50" width="2.1" height="2.1"/>
<rect x="586.15" y="483.41" width="2.1" height="2.1"/>
<rect x="586.15" y="465.62" width="2.1" height="2.1"/>
<rect x="586.15" y="446.10" width="2.1" height="2.1"/>
<rect x="586.15" y="481.87" width="2.1" height="2.1"/>
<rect x="586.15" y="433.83" width="2.1" height="2.1"/>
<rect x="586.15" y="468.78" width="2.1" height="2.1"/>
<rect x="586.15" y="463.57" width="2.1" height="2.1"/>
<rect x="586.15" y="471.26" width="2.1" height="2.1"/>
<rect x="586.15" y="479.83" width="2.1" height="2.1"/>
</g>
<g fill="#a01212">
<rect x="629.45" y="453.95" width="2.1" height="2.1"/>
<rect x="629.45" y="432.95" width="2.1" height="2.1"/>
<rect x="629.45" y="390.75" width="2.1" height="2.1"/>
<rect x="629.45" y="403.75" width="2.1" height="2.1"/>
<rect x="629.45" y="428.85" width="2.1" height="2.1"/>
<rect x="629.45" y="434.58" width="2.1" height="2.1"/>
<rect x="629.45" y="435.30" width="2.1" height="2.1"/>
<rect x="629.45" y="436.74" width="2.1" height="2.1"/>
<rect x="629.45" y="437.55" width="2.1" height="2.1"/>
<rect x="629.45" y="438.33" width="2.1" height="2.1"/>
<rect x="629.45" y="439.74" width="2.1" height="2.1"/>
<rect x="629.45" y="440.25" width="2.1" height="2.1"/>
<rect x="629.45" y="441.65" width="2.1" height="2.1"/>
<rect x="629.45" y="442.79" width="2.1" height="2.1"/>
<rect x="629.45" y="443.30" width="2.1" height="2.1"/>
<rect x="629.45" y="444.94" width="2.1" height="2.1"/>
<rect x="629.45" y="445.45" width="2.1" height="2.1"/>
<rect x="629.45" y="447.01" width="2.1" height="2.1"/>
<rect x="629.45" y="447.75" width="2.1" height="2.1"/>
<rect x="629.45" y="448.50" width="2.1" height="2.1"/>
<rect x="629.45" y="450.43" width="2.1" height="2.1"/>
<rect x="629.45" y="450.59" width="2.1" height="2.1"/>
<rect x="629.45" y="451.71" width="2.1" height="2.1"/>
<rect x="629.45" y="453.07" width="2.1" height="2.1"/>
<rect x="629.45" y="453.86" width="2.1" height="2.1"/>
<rect x="629.45" y="455.16" width="2.1" height="2.1"/>
<rect x="629.45" y="456.14" width="2.1" height="2.1"/>
<rect x="629.45" y="457.27" width="2.1" height="2.1"/>
<rect x="629.45" y="458.27" width="2.1" height="2.1"/>
<rect x="629.45" y="459.08" width="2.1" height="2.1"/>
<rect x="629.45" y="460.03" width="2.1" height="2.1"/>
<rect x="629.45" y="461.51" width="2.1" height="2.1"/>
<rect x="629.45" y="462.30" width="2.1" height="2.1"/>
<rect x="629.45" y="463.42" width="2.1" height="2.1"/>
<rect x="629.45" y="464.82" width="2.1" height="2.1"/>
<rect x="629.45" y="465.01" width="2.1" height="2.1"/>
<rect x="629.45" y="466.29" width="2.1" height="2.1"/>
<rect x="629.45" y="467.59" width="2.1" height="2.1"/>
<rect x="629.45" y="468.15" width="2.1" height="2.1"/>
<rect x="629.45" y="469.84" width="2.1" height="2.1"/>
<rect x="629.45" y="470.54" width="2.1" height="2.1"/>
<rect x="629.45" y="471.50" width="2.1" height="2.1"/>
<rect x="629.45" y="472.42" width="2.1" height="2.1"/>
<rect x="629.45" y="474.17" width="2.1" height="2.1"/>
<rect x="629.45" y="474.34" width="2.1" height="2.1"/>
<rect x="629.45" y="476.10" width="2.1" height="2.1"/>
<rect x="629.45" y="477.02" width="2.1" height="2.1"/>
<rect x="629.45" y="478.24" width="2.1" height="2.1"/>
<rect x="629.45" y="479.09" width="2.1" height="2.1"/>
<rect x="629.45" y="479.79" width="2.1" height="2.1"/>
<rect x="629.45" y="481.01" width="2.1" height="2.1"/>
<rect x="629.45" y="482.39" width="2.1" height="2.1"/>
<rect x="629.45" y="482.61" width="2.1" height="2.1"/>
</g>
<path d="M558.10,461V468.8M555.50,461H560.70M555.50,468.8H560.70" stroke="#e03535" stroke-width="0.8" fill="none"/>
<path d="M558.10,461.60L561.40,464.90L558.10,468.20L554.80,464.90Z" fill="#f21a1a"/>
<path d="M661.10,462.3V468.5M658.50,462.3H663.70M658.50,468.5H663.70" stroke="#e03535" stroke-width="0.8" fill="none"/>
<path d="M661.10,462.60L663.90,465.40L661.10,468.20L658.30,465.40Z" fill="#b01515"/>
<rect x="199.2" y="504" width="143.6" height="28.0" fill="#edf5f9"/>
<path d="M220.5,532V520.5H320.5V532" fill="none" stroke="#3e9a7c" stroke-width="1.05"/>
<text transform="translate(270.9,511.2) scale(0.87,1)" class="hd" fill="#4474ab" stroke="#4474ab" text-anchor="middle" dominant-baseline="central"><tspan font-style="italic">Z</tspan> = 2.346,   <tspan font-style="italic">p</tspan> = 0.019</text>
<path d="M199.5,526.30V646.0H346.90" fill="none" stroke="#2a2a2a" stroke-width="1.05"/>
<line x1="196.9" y1="646.5" x2="199.5" y2="646.5" stroke="#2a2a2a" stroke-width="1"/>
<text transform="translate(196.0,646.35) scale(0.88,1)" class="tk" text-anchor="end" dominant-baseline="central">0</text>
<line x1="196.9" y1="622.5" x2="199.5" y2="622.5" stroke="#2a2a2a" stroke-width="1"/>
<text transform="translate(196.0,622.35) scale(0.88,1)" class="tk" text-anchor="end" dominant-baseline="central">1</text>
<line x1="196.9" y1="598.5" x2="199.5" y2="598.5" stroke="#2a2a2a" stroke-width="1"/>
<text transform="translate(196.0,598.35) scale(0.88,1)" class="tk" text-anchor="end" dominant-baseline="central">2</text>
<line x1="196.9" y1="574.5" x2="199.5" y2="574.5" stroke="#2a2a2a" stroke-width="1"/>
<text transform="translate(196.0,574.35) scale(0.88,1)" class="tk" text-anchor="end" dominant-baseline="central">3</text>
<line x1="196.9" y1="550.5" x2="199.5" y2="550.5" stroke="#2a2a2a" stroke-width="1"/>
<text transform="translate(196.0,550.35) scale(0.88,1)" class="tk" text-anchor="end" dominant-baseline="central">4</text>
<line x1="196.9" y1="526.5" x2="199.5" y2="526.5" stroke="#2a2a2a" stroke-width="1"/>
<text transform="translate(196.0,526.35) scale(0.88,1)" class="tk" text-anchor="end" dominant-baseline="central">5</text>
<line x1="221.5" y1="646.0" x2="221.5" y2="648.6" stroke="#2a2a2a" stroke-width="1"/>
<line x1="250.5" y1="646.0" x2="250.5" y2="648.6" stroke="#2a2a2a" stroke-width="1"/>
<line x1="293.5" y1="646.0" x2="293.5" y2="648.6" stroke="#2a2a2a" stroke-width="1"/>
<line x1="324.5" y1="646.0" x2="324.5" y2="648.6" stroke="#2a2a2a" stroke-width="1"/>
<text transform="translate(221.10,652.0) scale(0.88,1)" class="xl" text-anchor="middle" dominant-baseline="central">Baseline</text>
<text transform="translate(221.10,659.1) scale(0.88,1)" class="xl" text-anchor="middle" dominant-baseline="central">w/error</text>
<text transform="translate(250.20,652.0) scale(0.88,1)" class="xl" text-anchor="middle" dominant-baseline="central">Baseline</text>
<text transform="translate(293.50,652.0) scale(0.88,1)" class="xl" text-anchor="middle" dominant-baseline="central">1-year</text>
<text transform="translate(324.10,652.0) scale(0.88,1)" class="xl" text-anchor="middle" dominant-baseline="central">1-year</text>
<text transform="translate(324.10,659.1) scale(0.88,1)" class="xl" text-anchor="middle" dominant-baseline="central">w/error</text>
<text transform="translate(175.6,584.8) rotate(-90) scale(0.88,1)" class="yl" fill="#2f9a78" stroke="#2f9a78" text-anchor="middle" dominant-baseline="central"><tspan font-style="italic">AP-</tspan> (GM-CSF, pg/ml)</text>
<g stroke="#62d062" stroke-width="0.5" fill="none" opacity="1">
<line x1="250.20" y1="627.40" x2="293.50" y2="626.70"/>
<line x1="250.20" y1="545.80" x2="293.50" y2="565.20"/>
<line x1="250.20" y1="552.40" x2="293.50" y2="551.60"/>
<line x1="250.20" y1="595.50" x2="293.50" y2="537.00"/>
<line x1="250.20" y1="577.00" x2="293.50" y2="542.40"/>
<line x1="250.20" y1="569.50" x2="293.50" y2="558.50"/>
<line x1="250.20" y1="559.50" x2="293.50" y2="560.70"/>
<line x1="250.20" y1="575.10" x2="293.50" y2="567.30"/>
<line x1="250.20" y1="572.80" x2="293.50" y2="571.50"/>
<line x1="250.20" y1="590.60" x2="293.50" y2="574.50"/>
<line x1="250.20" y1="600.50" x2="293.50" y2="576.50"/>
<line x1="250.20" y1="561.50" x2="293.50" y2="579.00"/>
<line x1="250.20" y1="584.40" x2="293.50" y2="581.10"/>
<line x1="250.20" y1="606.00" x2="293.50" y2="583.90"/>
<line x1="250.20" y1="587.20" x2="293.50" y2="586.40"/>
<line x1="250.20" y1="566.20" x2="293.50" y2="588.40"/>
<line x1="250.20" y1="593.90" x2="293.50" y2="591.40"/>
<line x1="250.20" y1="613.30" x2="293.50" y2="597.20"/>
<line x1="250.20" y1="602.20" x2="293.50" y2="599.70"/>
<line x1="250.20" y1="568.20" x2="293.50" y2="605.50"/>
<line x1="250.20" y1="609.30" x2="293.50" y2="609.30"/>
<line x1="250.20" y1="611.30" x2="293.50" y2="613.80"/>
</g>
<g fill="#0f5e0f">
<rect x="249.15" y="626.35" width="2.1" height="2.1"/>
<rect x="249.15" y="544.75" width="2.1" height="2.1"/>
<rect x="249.15" y="551.35" width="2.1" height="2.1"/>
<rect x="249.15" y="594.45" width="2.1" height="2.1"/>
<rect x="249.15" y="575.95" width="2.1" height="2.1"/>
<rect x="249.15" y="568.45" width="2.1" height="2.1"/>
<rect x="249.15" y="558.45" width="2.1" height="2.1"/>
<rect x="249.15" y="574.05" width="2.1" height="2.1"/>
<rect x="249.15" y="571.75" width="2.1" height="2.1"/>
<rect x="249.15" y="589.55" width="2.1" height="2.1"/>
<rect x="249.15" y="599.45" width="2.1" height="2.1"/>
<rect x="249.15" y="560.45" width="2.1" height="2.1"/>
<rect x="249.15" y="583.35" width="2.1" height="2.1"/>
<rect x="249.15" y="604.95" width="2.1" height="2.1"/>
<rect x="249.15" y="586.15" width="2.1" height="2.1"/>
<rect x="249.15" y="565.15" width="2.1" height="2.1"/>
<rect x="249.15" y="592.85" width="2.1" height="2.1"/>
<rect x="249.15" y="612.25" width="2.1" height="2.1"/>
<rect x="249.15" y="601.15" width="2.1" height="2.1"/>
<rect x="249.15" y="567.15" width="2.1" height="2.1"/>
<rect x="249.15" y="608.25" width="2.1" height="2.1"/>
<rect x="249.15" y="610.25" width="2.1" height="2.1"/>
</g>
<g fill="#0f5e0f">
<rect x="292.45" y="625.65" width="2.1" height="2.1"/>
<rect x="292.45" y="564.15" width="2.1" height="2.1"/>
<rect x="292.45" y="550.55" width="2.1" height="2.1"/>
<rect x="292.45" y="535.95" width="2.1" height="2.1"/>
<rect x="292.45" y="541.35" width="2.1" height="2.1"/>
<rect x="292.45" y="557.45" width="2.1" height="2.1"/>
<rect x="292.45" y="559.65" width="2.1" height="2.1"/>
<rect x="292.45" y="566.25" width="2.1" height="2.1"/>
<rect x="292.45" y="570.45" width="2.1" height="2.1"/>
<rect x="292.45" y="573.45" width="2.1" height="2.1"/>
<rect x="292.45" y="575.45" width="2.1" height="2.1"/>
<rect x="292.45" y="577.95" width="2.1" height="2.1"/>
<rect x="292.45" y="580.05" width="2.1" height="2.1"/>
<rect x="292.45" y="582.85" width="2.1" height="2.1"/>
<rect x="292.45" y="585.35" width="2.1" height="2.1"/>
<rect x="292.45" y="587.35" width="2.1" height="2.1"/>
<rect x="292.45" y="590.35" width="2.1" height="2.1"/>
<rect x="292.45" y="596.15" width="2.1" height="2.1"/>
<rect x="292.45" y="598.65" width="2.1" height="2.1"/>
<rect x="292.45" y="604.45" width="2.1" height="2.1"/>
<rect x="292.45" y="608.25" width="2.1" height="2.1"/>
<rect x="292.45" y="612.75" width="2.1" height="2.1"/>
</g>
<path d="M221.10,578.7V588.8M218.50,578.7H223.70M218.50,588.8H223.70" stroke="#4a8f4a" stroke-width="0.8" fill="none"/>
<path d="M221.10,580.75L223.95,583.60L221.10,586.45L218.25,583.60Z" fill="#fff" stroke="#2b7a2b" stroke-width="1.05"/>
<path d="M324.10,572.5V583.3M321.50,572.5H326.70M321.50,583.3H326.70" stroke="#4a8f4a" stroke-width="0.8" fill="none"/>
<path d="M324.10,574.80L326.90,577.60L324.10,580.40L321.30,577.60Z" fill="#1e6a1e"/>
<rect x="366" y="504" width="144.0" height="28.0" fill="#f9f2f5"/>
<path d="M390.5,531.2V519.5H491.5V531.2" fill="none" stroke="#ec3434" stroke-width="1.05"/>
<text transform="translate(441,510.2) scale(0.87,1)" class="hd" fill="#c42a2a" stroke="#c42a2a" text-anchor="middle" dominant-baseline="central"><tspan font-style="italic">Z</tspan> = 2.095,   <tspan font-style="italic">p</tspan> = 0.036</text>
<path d="M366.0,526.30V646.0H513.40" fill="none" stroke="#2a2a2a" stroke-width="1.05"/>
<line x1="363.4" y1="646.5" x2="366.0" y2="646.5" stroke="#2a2a2a" stroke-width="1"/>
<text transform="translate(362.5,646.35) scale(0.88,1)" class="tk" text-anchor="end" dominant-baseline="central">0</text>
<line x1="363.4" y1="622.5" x2="366.0" y2="622.5" stroke="#2a2a2a" stroke-width="1"/>
<text transform="translate(362.5,622.35) scale(0.88,1)" class="tk" text-anchor="end" dominant-baseline="central">1</text>
<line x1="363.4" y1="598.5" x2="366.0" y2="598.5" stroke="#2a2a2a" stroke-width="1"/>
<text transform="translate(362.5,598.35) scale(0.88,1)" class="tk" text-anchor="end" dominant-baseline="central">2</text>
<line x1="363.4" y1="574.5" x2="366.0" y2="574.5" stroke="#2a2a2a" stroke-width="1"/>
<text transform="translate(362.5,574.35) scale(0.88,1)" class="tk" text-anchor="end" dominant-baseline="central">3</text>
<line x1="363.4" y1="550.5" x2="366.0" y2="550.5" stroke="#2a2a2a" stroke-width="1"/>
<text transform="translate(362.5,550.35) scale(0.88,1)" class="tk" text-anchor="end" dominant-baseline="central">4</text>
<line x1="363.4" y1="526.5" x2="366.0" y2="526.5" stroke="#2a2a2a" stroke-width="1"/>
<text transform="translate(362.5,526.35) scale(0.88,1)" class="tk" text-anchor="end" dominant-baseline="central">5</text>
<line x1="387.5" y1="646.0" x2="387.5" y2="648.6" stroke="#2a2a2a" stroke-width="1"/>
<line x1="416.5" y1="646.0" x2="416.5" y2="648.6" stroke="#2a2a2a" stroke-width="1"/>
<line x1="460.5" y1="646.0" x2="460.5" y2="648.6" stroke="#2a2a2a" stroke-width="1"/>
<line x1="490.5" y1="646.0" x2="490.5" y2="648.6" stroke="#2a2a2a" stroke-width="1"/>
<text transform="translate(387.60,652.0) scale(0.88,1)" class="xl" text-anchor="middle" dominant-baseline="central">Baseline</text>
<text transform="translate(387.60,659.1) scale(0.88,1)" class="xl" text-anchor="middle" dominant-baseline="central">w/error</text>
<text transform="translate(416.70,652.0) scale(0.88,1)" class="xl" text-anchor="middle" dominant-baseline="central">Baseline</text>
<text transform="translate(460.00,652.0) scale(0.88,1)" class="xl" text-anchor="middle" dominant-baseline="central">1-year</text>
<text transform="translate(490.60,652.0) scale(0.88,1)" class="xl" text-anchor="middle" dominant-baseline="central">1-year</text>
<text transform="translate(490.60,659.1) scale(0.88,1)" class="xl" text-anchor="middle" dominant-baseline="central">w/error</text>
<text transform="translate(345.9,577.5) rotate(-90) scale(0.88,1)" class="yl" fill="#cc2a2a" stroke="#cc2a2a" text-anchor="middle" dominant-baseline="central"><tspan font-style="italic">AP+</tspan> (GM-CSF, pg/ml)</text>
<g stroke="#e35a5a" stroke-width="0.38" fill="none" opacity="1">
<line x1="416.70" y1="529.60" x2="460.00" y2="565.00"/>
<line x1="416.70" y1="535.00" x2="460.00" y2="537.00"/>
<line x1="416.70" y1="539.10" x2="460.00" y2="540.40"/>
<line x1="416.70" y1="541.90" x2="460.00" y2="548.20"/>
<line x1="416.70" y1="544.10" x2="460.00" y2="552.00"/>
<line x1="416.70" y1="552.90" x2="460.00" y2="556.00"/>
<line x1="416.70" y1="628.20" x2="460.00" y2="630.00"/>
<line x1="416.70" y1="617.90" x2="460.00" y2="623.20"/>
<line x1="416.70" y1="573.18" x2="460.00" y2="558.74"/>
<line x1="416.70" y1="582.69" x2="460.00" y2="559.75"/>
<line x1="416.70" y1="565.08" x2="460.00" y2="560.80"/>
<line x1="416.70" y1="586.36" x2="460.00" y2="562.54"/>
<line x1="416.70" y1="580.16" x2="460.00" y2="564.22"/>
<line x1="416.70" y1="558.30" x2="460.00" y2="565.01"/>
<line x1="416.70" y1="567.15" x2="460.00" y2="565.78"/>
<line x1="416.70" y1="569.47" x2="460.00" y2="567.47"/>
<line x1="416.70" y1="606.69" x2="460.00" y2="569.06"/>
<line x1="416.70" y1="587.46" x2="460.00" y2="570.53"/>
<line x1="416.70" y1="560.80" x2="460.00" y2="571.52"/>
<line x1="416.70" y1="581.05" x2="460.00" y2="572.01"/>
<line x1="416.70" y1="588.73" x2="460.00" y2="574.33"/>
<line x1="416.70" y1="570.60" x2="460.00" y2="575.18"/>
<line x1="416.70" y1="583.87" x2="460.00" y2="575.85"/>
<line x1="416.70" y1="562.34" x2="460.00" y2="577.17"/>
<line x1="416.70" y1="575.44" x2="460.00" y2="578.39"/>
<line x1="416.70" y1="595.59" x2="460.00" y2="580.31"/>
<line x1="416.70" y1="579.44" x2="460.00" y2="580.99"/>
<line x1="416.70" y1="597.42" x2="460.00" y2="583.00"/>
<line x1="416.70" y1="601.87" x2="460.00" y2="583.47"/>
<line x1="416.70" y1="598.22" x2="460.00" y2="585.22"/>
<line x1="416.70" y1="560.20" x2="460.00" y2="586.38"/>
<line x1="416.70" y1="578.28" x2="460.00" y2="587.18"/>
<line x1="416.70" y1="563.76" x2="460.00" y2="588.40"/>
<line x1="416.70" y1="608.06" x2="460.00" y2="590.69"/>
<line x1="416.70" y1="567.83" x2="460.00" y2="592.04"/>
<line x1="416.70" y1="594.98" x2="460.00" y2="592.33"/>
<line x1="416.70" y1="572.31" x2="460.00" y2="594.29"/>
<line x1="416.70" y1="591.76" x2="460.00" y2="595.84"/>
<line x1="416.70" y1="598.97" x2="460.00" y2="597.01"/>
<line x1="416.70" y1="593.90" x2="460.00" y2="598.25"/>
<line x1="416.70" y1="600.97" x2="460.00" y2="598.90"/>
<line x1="416.70" y1="604.36" x2="460.00" y2="600.59"/>
<line x1="416.70" y1="611.36" x2="460.00" y2="601.61"/>
<line x1="416.70" y1="613.36" x2="460.00" y2="603.37"/>
<line x1="416.70" y1="565.91" x2="460.00" y2="604.37"/>
<line x1="416.70" y1="576.36" x2="460.00" y2="605.79"/>
<line x1="416.70" y1="609.37" x2="460.00" y2="607.07"/>
<line x1="416.70" y1="609.96" x2="460.00" y2="607.80"/>
<line x1="416.70" y1="604.93" x2="460.00" y2="609.43"/>
<line x1="416.70" y1="603.44" x2="460.00" y2="609.99"/>
<line x1="416.70" y1="589.71" x2="460.00" y2="611.39"/>
<line x1="416.70" y1="590.55" x2="460.00" y2="613.48"/>
<line x1="416.70" y1="585.36" x2="460.00" y2="614.14"/>
<line x1="416.70" y1="574.59" x2="460.00" y2="615.72"/>
<line x1="416.70" y1="616.82" x2="460.00" y2="616.86"/>
<line x1="416.70" y1="615.29" x2="460.00" y2="617.77"/>
<line x1="416.70" y1="616.41" x2="460.00" y2="619.40"/>
<line x1="416.70" y1="612.74" x2="460.00" y2="621.04"/>
</g>
<g fill="#ff1414">
<rect x="415.65" y="528.55" width="2.1" height="2.1"/>
<rect x="415.65" y="533.95" width="2.1" height="2.1"/>
<rect x="415.65" y="538.05" width="2.1" height="2.1"/>
<rect x="415.65" y="540.85" width="2.1" height="2.1"/>
<rect x="415.65" y="543.05" width="2.1" height="2.1"/>
<rect x="415.65" y="551.85" width="2.1" height="2.1"/>
<rect x="415.65" y="627.15" width="2.1" height="2.1"/>
<rect x="415.65" y="616.85" width="2.1" height="2.1"/>
<rect x="415.65" y="572.13" width="2.1" height="2.1"/>
<rect x="415.65" y="581.64" width="2.1" height="2.1"/>
<rect x="415.65" y="564.03" width="2.1" height="2.1"/>
<rect x="415.65" y="585.31" width="2.1" height="2.1"/>
<rect x="415.65" y="579.11" width="2.1" height="2.1"/>
<rect x="415.65" y="557.25" width="2.1" height="2.1"/>
<rect x="415.65" y="566.10" width="2.1" height="2.1"/>
<rect x="415.65" y="568.42" width="2.1" height="2.1"/>
<rect x="415.65" y="605.64" width="2.1" height="2.1"/>
<rect x="415.65" y="586.41" width="2.1" height="2.1"/>
<rect x="415.65" y="559.75" width="2.1" height="2.1"/>
<rect x="415.65" y="580.00" width="2.1" height="2.1"/>
<rect x="415.65" y="587.68" width="2.1" height="2.1"/>
<rect x="415.65" y="569.55" width="2.1" height="2.1"/>
<rect x="415.65" y="582.82" width="2.1" height="2.1"/>
<rect x="415.65" y="561.29" width="2.1" height="2.1"/>
<rect x="415.65" y="574.39" width="2.1" height="2.1"/>
<rect x="415.65" y="594.54" width="2.1" height="2.1"/>
<rect x="415.65" y="578.39" width="2.1" height="2.1"/>
<rect x="415.65" y="596.37" width="2.1" height="2.1"/>
<rect x="415.65" y="600.82" width="2.1" height="2.1"/>
<rect x="415.65" y="597.17" width="2.1" height="2.1"/>
<rect x="415.65" y="559.15" width="2.1" height="2.1"/>
<rect x="415.65" y="577.23" width="2.1" height="2.1"/>
<rect x="415.65" y="562.71" width="2.1" height="2.1"/>
<rect x="415.65" y="607.01" width="2.1" height="2.1"/>
<rect x="415.65" y="566.78" width="2.1" height="2.1"/>
<rect x="415.65" y="593.93" width="2.1" height="2.1"/>
<rect x="415.65" y="571.26" width="2.1" height="2.1"/>
<rect x="415.65" y="590.71" width="2.1" height="2.1"/>
<rect x="415.65" y="597.92" width="2.1" height="2.1"/>
<rect x="415.65" y="592.85" width="2.1" height="2.1"/>
<rect x="415.65" y="599.92" width="2.1" height="2.1"/>
<rect x="415.65" y="603.31" width="2.1" height="2.1"/>
<rect x="415.65" y="610.31" width="2.1" height="2.1"/>
<rect x="415.65" y="612.31" width="2.1" height="2.1"/>
<rect x="415.65" y="564.86" width="2.1" height="2.1"/>
<rect x="415.65" y="575.31" width="2.1" height="2.1"/>
<rect x="415.65" y="608.32" width="2.1" height="2.1"/>
<rect x="415.65" y="608.91" width="2.1" height="2.1"/>
<rect x="415.65" y="603.88" width="2.1" height="2.1"/>
<rect x="415.65" y="602.39" width="2.1" height="2.1"/>
<rect x="415.65" y="588.66" width="2.1" height="2.1"/>
<rect x="415.65" y="589.50" width="2.1" height="2.1"/>
<rect x="415.65" y="584.31" width="2.1" height="2.1"/>
<rect x="415.65" y="573.54" width="2.1" height="2.1"/>
<rect x="415.65" y="615.77" width="2.1" height="2.1"/>
<rect x="415.65" y="614.24" width="2.1" height="2.1"/>
<rect x="415.65" y="615.36" width="2.1" height="2.1"/>
<rect x="415.65" y="611.69" width="2.1" height="2.1"/>
</g>
<g fill="#a01212">
<rect x="458.95" y="563.95" width="2.1" height="2.1"/>
<rect x="458.95" y="535.95" width="2.1" height="2.1"/>
<rect x="458.95" y="539.35" width="2.1" height="2.1"/>
<rect x="458.95" y="547.15" width="2.1" height="2.1"/>
<rect x="458.95" y="550.95" width="2.1" height="2.1"/>
<rect x="458.95" y="554.95" width="2.1" height="2.1"/>
<rect x="458.95" y="628.95" width="2.1" height="2.1"/>
<rect x="458.95" y="622.15" width="2.1" height="2.1"/>
<rect x="458.95" y="557.69" width="2.1" height="2.1"/>
<rect x="458.95" y="558.70" width="2.1" height="2.1"/>
<rect x="458.95" y="559.75" width="2.1" height="2.1"/>
<rect x="458.95" y="561.49" width="2.1" height="2.1"/>
<rect x="458.95" y="563.17" width="2.1" height="2.1"/>
<rect x="458.95" y="563.96" width="2.1" height="2.1"/>
<rect x="458.95" y="564.73" width="2.1" height="2.1"/>
<rect x="458.95" y="566.42" width="2.1" height="2.1"/>
<rect x="458.95" y="568.01" width="2.1" height="2.1"/>
<rect x="458.95" y="569.48" width="2.1" height="2.1"/>
<rect x="458.95" y="570.47" width="2.1" height="2.1"/>
<rect x="458.95" y="570.96" width="2.1" height="2.1"/>
<rect x="458.95" y="573.28" width="2.1" height="2.1"/>
<rect x="458.95" y="574.13" width="2.1" height="2.1"/>
<rect x="458.95" y="574.80" width="2.1" height="2.1"/>
<rect x="458.95" y="576.12" width="2.1" height="2.1"/>
<rect x="458.95" y="577.34" width="2.1" height="2.1"/>
<rect x="458.95" y="579.26" width="2.1" height="2.1"/>
<rect x="458.95" y="579.94" width="2.1" height="2.1"/>
<rect x="458.95" y="581.95" width="2.1" height="2.1"/>
<rect x="458.95" y="582.42" width="2.1" height="2.1"/>
<rect x="458.95" y="584.17" width="2.1" height="2.1"/>
<rect x="458.95" y="585.33" width="2.1" height="2.1"/>
<rect x="458.95" y="586.13" width="2.1" height="2.1"/>
<rect x="458.95" y="587.35" width="2.1" height="2.1"/>
<rect x="458.95" y="589.64" width="2.1" height="2.1"/>
<rect x="458.95" y="590.99" width="2.1" height="2.1"/>
<rect x="458.95" y="591.28" width="2.1" height="2.1"/>
<rect x="458.95" y="593.24" width="2.1" height="2.1"/>
<rect x="458.95" y="594.79" width="2.1" height="2.1"/>
<rect x="458.95" y="595.96" width="2.1" height="2.1"/>
<rect x="458.95" y="597.20" width="2.1" height="2.1"/>
<rect x="458.95" y="597.85" width="2.1" height="2.1"/>
<rect x="458.95" y="599.54" width="2.1" height="2.1"/>
<rect x="458.95" y="600.56" width="2.1" height="2.1"/>
<rect x="458.95" y="602.32" width="2.1" height="2.1"/>
<rect x="458.95" y="603.32" width="2.1" height="2.1"/>
<rect x="458.95" y="604.74" width="2.1" height="2.1"/>
<rect x="458.95" y="606.02" width="2.1" height="2.1"/>
<rect x="458.95" y="606.75" width="2.1" height="2.1"/>
<rect x="458.95" y="608.38" width="2.1" height="2.1"/>
<rect x="458.95" y="608.94" width="2.1" height="2.1"/>
<rect x="458.95" y="610.34" width="2.1" height="2.1"/>
<rect x="458.95" y="612.43" width="2.1" height="2.1"/>
<rect x="458.95" y="613.09" width="2.1" height="2.1"/>
<rect x="458.95" y="614.67" width="2.1" height="2.1"/>
<rect x="458.95" y="615.81" width="2.1" height="2.1"/>
<rect x="458.95" y="616.72" width="2.1" height="2.1"/>
<rect x="458.95" y="618.35" width="2.1" height="2.1"/>
<rect x="458.95" y="619.99" width="2.1" height="2.1"/>
</g>
<path d="M387.60,578.7V585.7M385.00,578.7H390.20M385.00,585.7H390.20" stroke="#e03535" stroke-width="0.8" fill="none"/>
<path d="M387.60,578.70L390.90,582.00L387.60,585.30L384.30,582.00Z" fill="#f21a1a"/>
<path d="M490.60,583.1V589.6M488.00,583.1H493.20M488.00,589.6H493.20" stroke="#e03535" stroke-width="0.8" fill="none"/>
<path d="M490.60,583.70L493.40,586.50L490.60,589.30L487.80,586.50Z" fill="#b01515"/>
</svg>
</body></html>
